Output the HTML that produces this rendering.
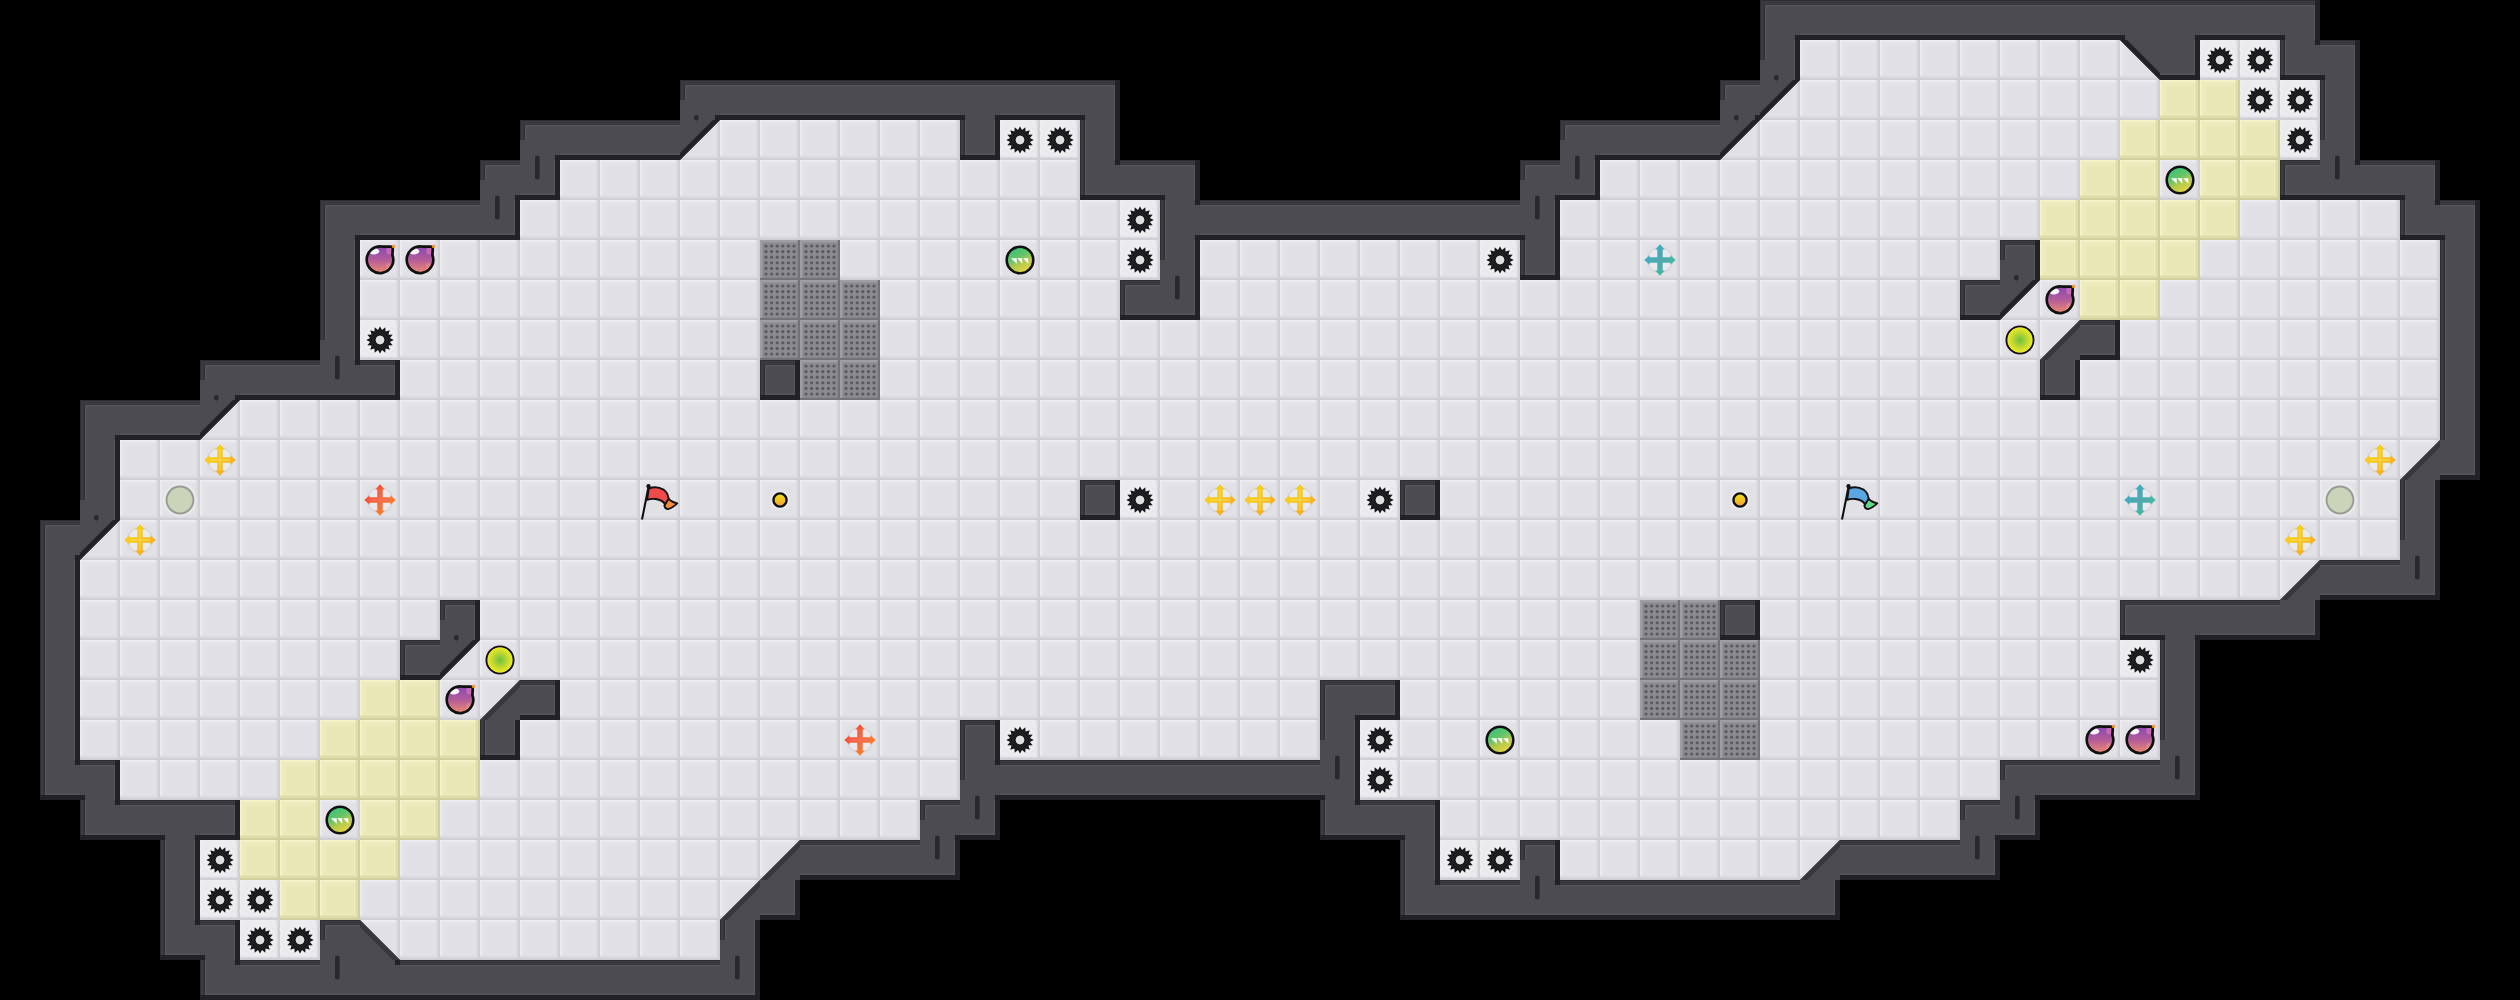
<!DOCTYPE html><html><head><meta charset="utf-8"><title>map</title>
<style>html,body{margin:0;padding:0;background:#000;width:2520px;height:1000px;overflow:hidden;font-family:"Liberation Sans",sans-serif}svg{display:block}</style>
</head><body>
<svg width="2520" height="1000" viewBox="0 0 2520 1000" shape-rendering="auto">
<defs>
<pattern id="fl" width="40" height="40" patternUnits="userSpaceOnUse"><rect width="40" height="40" fill="#e1e0e5"/><rect x="5.2" y="5.2" width="29.6" height="29.6" fill="none" stroke="#e4e3e8" stroke-width="2.4"/><rect x="0" y="0" width="40" height="3.6" fill="#e6e5ea"/><rect x="0" y="0" width="3.6" height="40" fill="#e6e5ea"/><rect x="0" y="0" width="40" height="1.5" fill="#ededf1"/><rect x="0" y="0" width="1.5" height="40" fill="#ededf1"/><rect x="0" y="35.6" width="40" height="2.6" fill="#dcdbe0"/><rect x="35.6" y="0" width="2.6" height="40" fill="#dcdbe0"/><rect x="0" y="38" width="40" height="2" fill="#d0cfd5"/><rect x="38" y="0" width="2" height="40" fill="#d0cfd5"/></pattern>
<pattern id="yl" width="40" height="40" patternUnits="userSpaceOnUse"><rect width="40" height="40" fill="#eae7b7"/><rect x="5.2" y="5.2" width="29.6" height="29.6" fill="none" stroke="#edeabc" stroke-width="2.4"/><rect x="0" y="0" width="40" height="3.6" fill="#efecc0"/><rect x="0" y="0" width="3.6" height="40" fill="#efecc0"/><rect x="0" y="0" width="40" height="1.5" fill="#f5f3cb"/><rect x="0" y="0" width="1.5" height="40" fill="#f5f3cb"/><rect x="0" y="35.6" width="40" height="2.6" fill="#e0ddab"/><rect x="35.6" y="0" width="2.6" height="40" fill="#e0ddab"/><rect x="0" y="38" width="40" height="2" fill="#d2cf9e"/><rect x="38" y="0" width="2" height="40" fill="#d2cf9e"/></pattern>
<pattern id="gt" width="40" height="40" patternUnits="userSpaceOnUse"><rect width="40" height="40" fill="#8b8a8f"/><rect x="0" y="0" width="40" height="2.4" fill="#9f9ea3"/><rect x="0" y="0" width="2.4" height="40" fill="#9f9ea3"/><rect x="0" y="37.8" width="40" height="2.2" fill="#737277"/><rect x="37.8" y="0" width="2.2" height="40" fill="#737277"/><g fill="#5a595e"><circle cx="6.0" cy="6.0" r="1.6"/><circle cx="6.0" cy="11.6" r="1.6"/><circle cx="6.0" cy="17.2" r="1.6"/><circle cx="6.0" cy="22.8" r="1.6"/><circle cx="6.0" cy="28.4" r="1.6"/><circle cx="6.0" cy="34.0" r="1.6"/><circle cx="11.6" cy="6.0" r="1.6"/><circle cx="11.6" cy="11.6" r="1.6"/><circle cx="11.6" cy="17.2" r="1.6"/><circle cx="11.6" cy="22.8" r="1.6"/><circle cx="11.6" cy="28.4" r="1.6"/><circle cx="11.6" cy="34.0" r="1.6"/><circle cx="17.2" cy="6.0" r="1.6"/><circle cx="17.2" cy="11.6" r="1.6"/><circle cx="17.2" cy="17.2" r="1.6"/><circle cx="17.2" cy="22.8" r="1.6"/><circle cx="17.2" cy="28.4" r="1.6"/><circle cx="17.2" cy="34.0" r="1.6"/><circle cx="22.8" cy="6.0" r="1.6"/><circle cx="22.8" cy="11.6" r="1.6"/><circle cx="22.8" cy="17.2" r="1.6"/><circle cx="22.8" cy="22.8" r="1.6"/><circle cx="22.8" cy="28.4" r="1.6"/><circle cx="22.8" cy="34.0" r="1.6"/><circle cx="28.4" cy="6.0" r="1.6"/><circle cx="28.4" cy="11.6" r="1.6"/><circle cx="28.4" cy="17.2" r="1.6"/><circle cx="28.4" cy="22.8" r="1.6"/><circle cx="28.4" cy="28.4" r="1.6"/><circle cx="28.4" cy="34.0" r="1.6"/><circle cx="34.0" cy="6.0" r="1.6"/><circle cx="34.0" cy="11.6" r="1.6"/><circle cx="34.0" cy="17.2" r="1.6"/><circle cx="34.0" cy="22.8" r="1.6"/><circle cx="34.0" cy="28.4" r="1.6"/><circle cx="34.0" cy="34.0" r="1.6"/></g></pattern>
<linearGradient id="gbomb" x1="0" y1="0" x2="0" y2="1"><stop offset="0.05" stop-color="#8e4ab2"/><stop offset="0.5" stop-color="#b25c9a"/><stop offset="1" stop-color="#ee8a72"/></linearGradient>
<linearGradient id="gpow" x1="0.25" y1="0" x2="0.75" y2="1"><stop offset="0" stop-color="#34c27a"/><stop offset="0.4" stop-color="#66c468"/><stop offset="0.62" stop-color="#b4c84c"/><stop offset="1" stop-color="#eed83e"/></linearGradient>
<radialGradient id="gneu" cx="0.5" cy="0.5" r="0.5"><stop offset="0" stop-color="#6cc040"/><stop offset="0.55" stop-color="#c0d830"/><stop offset="1" stop-color="#f4f020"/></radialGradient>
<linearGradient id="gbtn" x1="0" y1="0" x2="0" y2="1"><stop offset="0" stop-color="#f4e418"/><stop offset="1" stop-color="#f2a030"/></linearGradient>
<linearGradient id="gby" x1="0" y1="0" x2="1" y2="1"><stop offset="0" stop-color="#f6dc10"/><stop offset="0.5" stop-color="#f6c420"/><stop offset="1" stop-color="#f79820"/></linearGradient>
<linearGradient id="gbr" x1="0" y1="0" x2="1" y2="1"><stop offset="0" stop-color="#f33a3a"/><stop offset="0.5" stop-color="#f36a3c"/><stop offset="1" stop-color="#f7931e"/></linearGradient>
<linearGradient id="gbb" x1="0" y1="0" x2="1" y2="1"><stop offset="0" stop-color="#3aa6d4"/><stop offset="0.5" stop-color="#46b0b0"/><stop offset="1" stop-color="#48c090"/></linearGradient>
<radialGradient id="glow" cx="0.5" cy="0.5" r="0.5"><stop offset="0" stop-color="#ffffff" stop-opacity="0.55"/><stop offset="0.75" stop-color="#ffffff" stop-opacity="0.35"/><stop offset="1" stop-color="#ffffff" stop-opacity="0"/></radialGradient>
<g id="sp"><rect x="1.5" y="1.5" width="35.5" height="35.5" fill="#f4f4f7" opacity="0.45"/><circle cx="20" cy="20" r="17" fill="url(#glow)"/><path d="M20.00,6.20 L21.97,10.09 L25.28,7.25 L25.61,11.60 L29.76,10.24 L28.40,14.39 L32.75,14.72 L29.91,18.03 L33.80,20.00 L29.91,21.97 L32.75,25.28 L28.40,25.61 L29.76,29.76 L25.61,28.40 L25.28,32.75 L21.97,29.91 L20.00,33.80 L18.03,29.91 L14.72,32.75 L14.39,28.40 L10.24,29.76 L11.60,25.61 L7.25,25.28 L10.09,21.97 L6.20,20.00 L10.09,18.03 L7.25,14.72 L11.60,14.39 L10.24,10.24 L14.39,11.60 L14.72,7.25 L18.03,10.09 Z M24.2,20 A4.2,4.2 0 1,0 15.8,20 A4.2,4.2 0 1,0 24.2,20 Z" fill="#1a1a1c" fill-rule="evenodd"/><circle cx="20" cy="20" r="4.3" fill="#dfdfe3"/><circle cx="20" cy="20" r="7.2" fill="none" stroke="#2a2a2c" stroke-width="0.8"/></g>
<clipPath id="bclip"><path d="M22,6.65 L30.6,6.7 Q32.9,6.8 32.8,9 L32.4,15 A13.3,13.3 0 1,1 22,6.65 Z"/></clipPath>
<g id="bm"><circle cx="20" cy="20" r="16" fill="url(#glow)"/><path d="M22,6.65 L30.6,6.7 Q32.9,6.8 32.8,9 L32.4,15 A13.3,13.3 0 1,1 22,6.65 Z" fill="url(#gbomb)"/><g clip-path="url(#bclip)"><ellipse cx="13.8" cy="11.2" rx="5.4" ry="3.2" fill="#fff" opacity="0.95"/><ellipse cx="29.5" cy="11" rx="3.4" ry="3.6" fill="#e47cb8" opacity="0.6"/><ellipse cx="29" cy="26.5" rx="3" ry="3.5" fill="#f29a80" opacity="0.45"/></g><path d="M22,6.65 L30.6,6.7 Q32.9,6.8 32.8,9 L32.4,15 A13.3,13.3 0 1,1 22,6.65 Z" fill="none" stroke="#111" stroke-width="2.7" stroke-linejoin="round"/><circle cx="33.6" cy="6.4" r="1.7" fill="#f39020"/></g>
<g id="pw"><circle cx="20" cy="20" r="16" fill="url(#glow)"/><circle cx="20" cy="20" r="13.3" fill="url(#gpow)" stroke="#111" stroke-width="2.6"/><path d="M11,18.3 L16.7,18.3 L16.7,23.8 Z M17.3,18.3 L22.3,18.3 L22.3,23.8 Z M23.2,18.3 L28.3,18.3 L28.3,23.8 Z" fill="#fff"/></g>
<g id="nb"><circle cx="20" cy="20" r="16" fill="url(#glow)"/><circle cx="20" cy="20" r="13.6" fill="url(#gneu)" stroke="#140c24" stroke-width="1.9"/></g>
<g id="pt"><circle cx="20" cy="20" r="17" fill="#ececf2" opacity="0.6"/><circle cx="20" cy="20" r="13.4" fill="#c9d4b9" stroke="#9a9d92" stroke-width="2"/></g>
<g id="bt"><circle cx="20" cy="20" r="11" fill="url(#glow)"/><circle cx="20" cy="20" r="6.6" fill="url(#gbtn)" stroke="#111" stroke-width="2.4"/></g>
<g id="byl"><circle cx="20" cy="20" r="12.4" fill="#e9e9ee" stroke="#d3d3d9" stroke-width="1.4"/><path d="M17.3,9.6 L17.3,17.3 L9.6,17.3 L9.6,15.3 L4.3,20 L9.6,24.7 L9.6,22.7 L17.3,22.7 L17.3,30.4 L15.3,30.4 L20,35.7 L24.7,30.4 L22.7,30.4 L22.7,22.7 L30.4,22.7 L30.4,24.7 L35.7,20 L30.4,15.3 L30.4,17.3 L22.7,17.3 L22.7,9.6 L24.7,9.6 L20,4.3 L15.3,9.6 Z" fill="url(#gby)"/><path d="M20,9.5 L20,30.5 M9.5,20 L30.5,20" stroke="#f8e060" stroke-width="1.5" opacity="0.6"/></g>
<g id="brd"><circle cx="20" cy="20" r="12.4" fill="#e9e9ee" stroke="#d3d3d9" stroke-width="1.4"/><path d="M17.3,9.6 L17.3,17.3 L9.6,17.3 L9.6,15.3 L4.3,20 L9.6,24.7 L9.6,22.7 L17.3,22.7 L17.3,30.4 L15.3,30.4 L20,35.7 L24.7,30.4 L22.7,30.4 L22.7,22.7 L30.4,22.7 L30.4,24.7 L35.7,20 L30.4,15.3 L30.4,17.3 L22.7,17.3 L22.7,9.6 L24.7,9.6 L20,4.3 L15.3,9.6 Z" fill="url(#gbr)"/><path d="M20,9.5 L20,30.5 M9.5,20 L30.5,20" stroke="#f87070" stroke-width="1.5" opacity="0.6"/></g>
<g id="bbl"><circle cx="20" cy="20" r="12.4" fill="#e9e9ee" stroke="#d3d3d9" stroke-width="1.4"/><path d="M17.3,9.6 L17.3,17.3 L9.6,17.3 L9.6,15.3 L4.3,20 L9.6,24.7 L9.6,22.7 L17.3,22.7 L17.3,30.4 L15.3,30.4 L20,35.7 L24.7,30.4 L22.7,30.4 L22.7,22.7 L30.4,22.7 L30.4,24.7 L35.7,20 L30.4,15.3 L30.4,17.3 L22.7,17.3 L22.7,9.6 L24.7,9.6 L20,4.3 L15.3,9.6 Z" fill="url(#gbb)"/><path d="M20,9.5 L20,30.5 M9.5,20 L30.5,20" stroke="#6a98a8" stroke-width="1.5" opacity="0.6"/></g>
<g id="frd" stroke="#111" stroke-linejoin="round" stroke-linecap="round"><path d="M28.6,18.6 C30,20.5 32.5,22.2 37.3,23.4 C35,25.5 32,28 28.6,29 C26.5,29.3 24.8,28 24.3,25.5 L25,24.5 Z" fill="#f58a3a" stroke-width="1.8"/><path d="M8.8,8.6 C13,6.8 19,7 23.5,9.6 C26.5,11.5 28,15 28.6,18.6 L25,24.5 C23.5,21 20,19.6 15.5,19 C12,18.7 9.5,19 7.2,19.8 Z" fill="#ef4b4b" stroke-width="1.8"/><path d="M8.3,8 L2.2,38.6" stroke-width="2.1" fill="none"/><circle cx="8.5" cy="6.2" r="2.1" fill="#111" stroke="none"/></g>
<g id="fbl" stroke="#111" stroke-linejoin="round" stroke-linecap="round"><path d="M28.6,18.6 C30,20.5 32.5,22.2 37.3,23.4 C35,25.5 32,28 28.6,29 C26.5,29.3 24.8,28 24.3,25.5 L25,24.5 Z" fill="#5cd888" stroke-width="1.8"/><path d="M8.8,8.6 C13,6.8 19,7 23.5,9.6 C26.5,11.5 28,15 28.6,18.6 L25,24.5 C23.5,21 20,19.6 15.5,19 C12,18.7 9.5,19 7.2,19.8 Z" fill="#5aa6e0" stroke-width="1.8"/><path d="M8.3,8 L2.2,38.6" stroke-width="2.1" fill="none"/><circle cx="8.5" cy="6.2" r="2.1" fill="#111" stroke="none"/></g>
</defs>
<rect width="2520" height="1000" fill="#000"/>
<path d="M1800,40h40v40h-40zM1840,40h40v40h-40zM1880,40h40v40h-40zM1920,40h40v40h-40zM1960,40h40v40h-40zM2000,40h40v40h-40zM2040,40h40v40h-40zM2080,40h40v40h-40zM2200,40h40v40h-40zM2240,40h40v40h-40zM1800,80h40v40h-40zM1840,80h40v40h-40zM1880,80h40v40h-40zM1920,80h40v40h-40zM1960,80h40v40h-40zM2000,80h40v40h-40zM2040,80h40v40h-40zM2080,80h40v40h-40zM2120,80h40v40h-40zM2240,80h40v40h-40zM2280,80h40v40h-40zM720,120h40v40h-40zM760,120h40v40h-40zM800,120h40v40h-40zM840,120h40v40h-40zM880,120h40v40h-40zM920,120h40v40h-40zM1000,120h40v40h-40zM1040,120h40v40h-40zM1760,120h40v40h-40zM1800,120h40v40h-40zM1840,120h40v40h-40zM1880,120h40v40h-40zM1920,120h40v40h-40zM1960,120h40v40h-40zM2000,120h40v40h-40zM2040,120h40v40h-40zM2080,120h40v40h-40zM2280,120h40v40h-40zM560,160h40v40h-40zM600,160h40v40h-40zM640,160h40v40h-40zM680,160h40v40h-40zM720,160h40v40h-40zM760,160h40v40h-40zM800,160h40v40h-40zM840,160h40v40h-40zM880,160h40v40h-40zM920,160h40v40h-40zM960,160h40v40h-40zM1000,160h40v40h-40zM1040,160h40v40h-40zM1600,160h40v40h-40zM1640,160h40v40h-40zM1680,160h40v40h-40zM1720,160h40v40h-40zM1760,160h40v40h-40zM1800,160h40v40h-40zM1840,160h40v40h-40zM1880,160h40v40h-40zM1920,160h40v40h-40zM1960,160h40v40h-40zM2000,160h40v40h-40zM2040,160h40v40h-40zM2160,160h40v40h-40zM520,200h40v40h-40zM560,200h40v40h-40zM600,200h40v40h-40zM640,200h40v40h-40zM680,200h40v40h-40zM720,200h40v40h-40zM760,200h40v40h-40zM800,200h40v40h-40zM840,200h40v40h-40zM880,200h40v40h-40zM920,200h40v40h-40zM960,200h40v40h-40zM1000,200h40v40h-40zM1040,200h40v40h-40zM1080,200h40v40h-40zM1120,200h40v40h-40zM1560,200h40v40h-40zM1600,200h40v40h-40zM1640,200h40v40h-40zM1680,200h40v40h-40zM1720,200h40v40h-40zM1760,200h40v40h-40zM1800,200h40v40h-40zM1840,200h40v40h-40zM1880,200h40v40h-40zM1920,200h40v40h-40zM1960,200h40v40h-40zM2000,200h40v40h-40zM2240,200h40v40h-40zM2280,200h40v40h-40zM2320,200h40v40h-40zM2360,200h40v40h-40zM360,240h40v40h-40zM400,240h40v40h-40zM440,240h40v40h-40zM480,240h40v40h-40zM520,240h40v40h-40zM560,240h40v40h-40zM600,240h40v40h-40zM640,240h40v40h-40zM680,240h40v40h-40zM720,240h40v40h-40zM840,240h40v40h-40zM880,240h40v40h-40zM920,240h40v40h-40zM960,240h40v40h-40zM1000,240h40v40h-40zM1040,240h40v40h-40zM1080,240h40v40h-40zM1120,240h40v40h-40zM1200,240h40v40h-40zM1240,240h40v40h-40zM1280,240h40v40h-40zM1320,240h40v40h-40zM1360,240h40v40h-40zM1400,240h40v40h-40zM1440,240h40v40h-40zM1480,240h40v40h-40zM1560,240h40v40h-40zM1600,240h40v40h-40zM1640,240h40v40h-40zM1680,240h40v40h-40zM1720,240h40v40h-40zM1760,240h40v40h-40zM1800,240h40v40h-40zM1840,240h40v40h-40zM1880,240h40v40h-40zM1920,240h40v40h-40zM1960,240h40v40h-40zM2200,240h40v40h-40zM2240,240h40v40h-40zM2280,240h40v40h-40zM2320,240h40v40h-40zM2360,240h40v40h-40zM2400,240h40v40h-40zM360,280h40v40h-40zM400,280h40v40h-40zM440,280h40v40h-40zM480,280h40v40h-40zM520,280h40v40h-40zM560,280h40v40h-40zM600,280h40v40h-40zM640,280h40v40h-40zM680,280h40v40h-40zM720,280h40v40h-40zM880,280h40v40h-40zM920,280h40v40h-40zM960,280h40v40h-40zM1000,280h40v40h-40zM1040,280h40v40h-40zM1080,280h40v40h-40zM1200,280h40v40h-40zM1240,280h40v40h-40zM1280,280h40v40h-40zM1320,280h40v40h-40zM1360,280h40v40h-40zM1400,280h40v40h-40zM1440,280h40v40h-40zM1480,280h40v40h-40zM1520,280h40v40h-40zM1560,280h40v40h-40zM1600,280h40v40h-40zM1640,280h40v40h-40zM1680,280h40v40h-40zM1720,280h40v40h-40zM1760,280h40v40h-40zM1800,280h40v40h-40zM1840,280h40v40h-40zM1880,280h40v40h-40zM1920,280h40v40h-40zM2040,280h40v40h-40zM2160,280h40v40h-40zM2200,280h40v40h-40zM2240,280h40v40h-40zM2280,280h40v40h-40zM2320,280h40v40h-40zM2360,280h40v40h-40zM2400,280h40v40h-40zM360,320h40v40h-40zM400,320h40v40h-40zM440,320h40v40h-40zM480,320h40v40h-40zM520,320h40v40h-40zM560,320h40v40h-40zM600,320h40v40h-40zM640,320h40v40h-40zM680,320h40v40h-40zM720,320h40v40h-40zM880,320h40v40h-40zM920,320h40v40h-40zM960,320h40v40h-40zM1000,320h40v40h-40zM1040,320h40v40h-40zM1080,320h40v40h-40zM1120,320h40v40h-40zM1160,320h40v40h-40zM1200,320h40v40h-40zM1240,320h40v40h-40zM1280,320h40v40h-40zM1320,320h40v40h-40zM1360,320h40v40h-40zM1400,320h40v40h-40zM1440,320h40v40h-40zM1480,320h40v40h-40zM1520,320h40v40h-40zM1560,320h40v40h-40zM1600,320h40v40h-40zM1640,320h40v40h-40zM1680,320h40v40h-40zM1720,320h40v40h-40zM1760,320h40v40h-40zM1800,320h40v40h-40zM1840,320h40v40h-40zM1880,320h40v40h-40zM1920,320h40v40h-40zM1960,320h40v40h-40zM2000,320h40v40h-40zM2120,320h40v40h-40zM2160,320h40v40h-40zM2200,320h40v40h-40zM2240,320h40v40h-40zM2280,320h40v40h-40zM2320,320h40v40h-40zM2360,320h40v40h-40zM2400,320h40v40h-40zM400,360h40v40h-40zM440,360h40v40h-40zM480,360h40v40h-40zM520,360h40v40h-40zM560,360h40v40h-40zM600,360h40v40h-40zM640,360h40v40h-40zM680,360h40v40h-40zM720,360h40v40h-40zM880,360h40v40h-40zM920,360h40v40h-40zM960,360h40v40h-40zM1000,360h40v40h-40zM1040,360h40v40h-40zM1080,360h40v40h-40zM1120,360h40v40h-40zM1160,360h40v40h-40zM1200,360h40v40h-40zM1240,360h40v40h-40zM1280,360h40v40h-40zM1320,360h40v40h-40zM1360,360h40v40h-40zM1400,360h40v40h-40zM1440,360h40v40h-40zM1480,360h40v40h-40zM1520,360h40v40h-40zM1560,360h40v40h-40zM1600,360h40v40h-40zM1640,360h40v40h-40zM1680,360h40v40h-40zM1720,360h40v40h-40zM1760,360h40v40h-40zM1800,360h40v40h-40zM1840,360h40v40h-40zM1880,360h40v40h-40zM1920,360h40v40h-40zM1960,360h40v40h-40zM2000,360h40v40h-40zM2080,360h40v40h-40zM2120,360h40v40h-40zM2160,360h40v40h-40zM2200,360h40v40h-40zM2240,360h40v40h-40zM2280,360h40v40h-40zM2320,360h40v40h-40zM2360,360h40v40h-40zM2400,360h40v40h-40zM240,400h40v40h-40zM280,400h40v40h-40zM320,400h40v40h-40zM360,400h40v40h-40zM400,400h40v40h-40zM440,400h40v40h-40zM480,400h40v40h-40zM520,400h40v40h-40zM560,400h40v40h-40zM600,400h40v40h-40zM640,400h40v40h-40zM680,400h40v40h-40zM720,400h40v40h-40zM760,400h40v40h-40zM800,400h40v40h-40zM840,400h40v40h-40zM880,400h40v40h-40zM920,400h40v40h-40zM960,400h40v40h-40zM1000,400h40v40h-40zM1040,400h40v40h-40zM1080,400h40v40h-40zM1120,400h40v40h-40zM1160,400h40v40h-40zM1200,400h40v40h-40zM1240,400h40v40h-40zM1280,400h40v40h-40zM1320,400h40v40h-40zM1360,400h40v40h-40zM1400,400h40v40h-40zM1440,400h40v40h-40zM1480,400h40v40h-40zM1520,400h40v40h-40zM1560,400h40v40h-40zM1600,400h40v40h-40zM1640,400h40v40h-40zM1680,400h40v40h-40zM1720,400h40v40h-40zM1760,400h40v40h-40zM1800,400h40v40h-40zM1840,400h40v40h-40zM1880,400h40v40h-40zM1920,400h40v40h-40zM1960,400h40v40h-40zM2000,400h40v40h-40zM2040,400h40v40h-40zM2080,400h40v40h-40zM2120,400h40v40h-40zM2160,400h40v40h-40zM2200,400h40v40h-40zM2240,400h40v40h-40zM2280,400h40v40h-40zM2320,400h40v40h-40zM2360,400h40v40h-40zM2400,400h40v40h-40zM120,440h40v40h-40zM160,440h40v40h-40zM200,440h40v40h-40zM240,440h40v40h-40zM280,440h40v40h-40zM320,440h40v40h-40zM360,440h40v40h-40zM400,440h40v40h-40zM440,440h40v40h-40zM480,440h40v40h-40zM520,440h40v40h-40zM560,440h40v40h-40zM600,440h40v40h-40zM640,440h40v40h-40zM680,440h40v40h-40zM720,440h40v40h-40zM760,440h40v40h-40zM800,440h40v40h-40zM840,440h40v40h-40zM880,440h40v40h-40zM920,440h40v40h-40zM960,440h40v40h-40zM1000,440h40v40h-40zM1040,440h40v40h-40zM1080,440h40v40h-40zM1120,440h40v40h-40zM1160,440h40v40h-40zM1200,440h40v40h-40zM1240,440h40v40h-40zM1280,440h40v40h-40zM1320,440h40v40h-40zM1360,440h40v40h-40zM1400,440h40v40h-40zM1440,440h40v40h-40zM1480,440h40v40h-40zM1520,440h40v40h-40zM1560,440h40v40h-40zM1600,440h40v40h-40zM1640,440h40v40h-40zM1680,440h40v40h-40zM1720,440h40v40h-40zM1760,440h40v40h-40zM1800,440h40v40h-40zM1840,440h40v40h-40zM1880,440h40v40h-40zM1920,440h40v40h-40zM1960,440h40v40h-40zM2000,440h40v40h-40zM2040,440h40v40h-40zM2080,440h40v40h-40zM2120,440h40v40h-40zM2160,440h40v40h-40zM2200,440h40v40h-40zM2240,440h40v40h-40zM2280,440h40v40h-40zM2320,440h40v40h-40zM2360,440h40v40h-40zM120,480h40v40h-40zM160,480h40v40h-40zM200,480h40v40h-40zM240,480h40v40h-40zM280,480h40v40h-40zM320,480h40v40h-40zM360,480h40v40h-40zM400,480h40v40h-40zM440,480h40v40h-40zM480,480h40v40h-40zM520,480h40v40h-40zM560,480h40v40h-40zM600,480h40v40h-40zM640,480h40v40h-40zM680,480h40v40h-40zM720,480h40v40h-40zM760,480h40v40h-40zM800,480h40v40h-40zM840,480h40v40h-40zM880,480h40v40h-40zM920,480h40v40h-40zM960,480h40v40h-40zM1000,480h40v40h-40zM1040,480h40v40h-40zM1120,480h40v40h-40zM1160,480h40v40h-40zM1200,480h40v40h-40zM1240,480h40v40h-40zM1280,480h40v40h-40zM1320,480h40v40h-40zM1360,480h40v40h-40zM1440,480h40v40h-40zM1480,480h40v40h-40zM1520,480h40v40h-40zM1560,480h40v40h-40zM1600,480h40v40h-40zM1640,480h40v40h-40zM1680,480h40v40h-40zM1720,480h40v40h-40zM1760,480h40v40h-40zM1800,480h40v40h-40zM1840,480h40v40h-40zM1880,480h40v40h-40zM1920,480h40v40h-40zM1960,480h40v40h-40zM2000,480h40v40h-40zM2040,480h40v40h-40zM2080,480h40v40h-40zM2120,480h40v40h-40zM2160,480h40v40h-40zM2200,480h40v40h-40zM2240,480h40v40h-40zM2280,480h40v40h-40zM2320,480h40v40h-40zM2360,480h40v40h-40zM120,520h40v40h-40zM160,520h40v40h-40zM200,520h40v40h-40zM240,520h40v40h-40zM280,520h40v40h-40zM320,520h40v40h-40zM360,520h40v40h-40zM400,520h40v40h-40zM440,520h40v40h-40zM480,520h40v40h-40zM520,520h40v40h-40zM560,520h40v40h-40zM600,520h40v40h-40zM640,520h40v40h-40zM680,520h40v40h-40zM720,520h40v40h-40zM760,520h40v40h-40zM800,520h40v40h-40zM840,520h40v40h-40zM880,520h40v40h-40zM920,520h40v40h-40zM960,520h40v40h-40zM1000,520h40v40h-40zM1040,520h40v40h-40zM1080,520h40v40h-40zM1120,520h40v40h-40zM1160,520h40v40h-40zM1200,520h40v40h-40zM1240,520h40v40h-40zM1280,520h40v40h-40zM1320,520h40v40h-40zM1360,520h40v40h-40zM1400,520h40v40h-40zM1440,520h40v40h-40zM1480,520h40v40h-40zM1520,520h40v40h-40zM1560,520h40v40h-40zM1600,520h40v40h-40zM1640,520h40v40h-40zM1680,520h40v40h-40zM1720,520h40v40h-40zM1760,520h40v40h-40zM1800,520h40v40h-40zM1840,520h40v40h-40zM1880,520h40v40h-40zM1920,520h40v40h-40zM1960,520h40v40h-40zM2000,520h40v40h-40zM2040,520h40v40h-40zM2080,520h40v40h-40zM2120,520h40v40h-40zM2160,520h40v40h-40zM2200,520h40v40h-40zM2240,520h40v40h-40zM2280,520h40v40h-40zM2320,520h40v40h-40zM2360,520h40v40h-40zM80,560h40v40h-40zM120,560h40v40h-40zM160,560h40v40h-40zM200,560h40v40h-40zM240,560h40v40h-40zM280,560h40v40h-40zM320,560h40v40h-40zM360,560h40v40h-40zM400,560h40v40h-40zM440,560h40v40h-40zM480,560h40v40h-40zM520,560h40v40h-40zM560,560h40v40h-40zM600,560h40v40h-40zM640,560h40v40h-40zM680,560h40v40h-40zM720,560h40v40h-40zM760,560h40v40h-40zM800,560h40v40h-40zM840,560h40v40h-40zM880,560h40v40h-40zM920,560h40v40h-40zM960,560h40v40h-40zM1000,560h40v40h-40zM1040,560h40v40h-40zM1080,560h40v40h-40zM1120,560h40v40h-40zM1160,560h40v40h-40zM1200,560h40v40h-40zM1240,560h40v40h-40zM1280,560h40v40h-40zM1320,560h40v40h-40zM1360,560h40v40h-40zM1400,560h40v40h-40zM1440,560h40v40h-40zM1480,560h40v40h-40zM1520,560h40v40h-40zM1560,560h40v40h-40zM1600,560h40v40h-40zM1640,560h40v40h-40zM1680,560h40v40h-40zM1720,560h40v40h-40zM1760,560h40v40h-40zM1800,560h40v40h-40zM1840,560h40v40h-40zM1880,560h40v40h-40zM1920,560h40v40h-40zM1960,560h40v40h-40zM2000,560h40v40h-40zM2040,560h40v40h-40zM2080,560h40v40h-40zM2120,560h40v40h-40zM2160,560h40v40h-40zM2200,560h40v40h-40zM2240,560h40v40h-40zM80,600h40v40h-40zM120,600h40v40h-40zM160,600h40v40h-40zM200,600h40v40h-40zM240,600h40v40h-40zM280,600h40v40h-40zM320,600h40v40h-40zM360,600h40v40h-40zM400,600h40v40h-40zM480,600h40v40h-40zM520,600h40v40h-40zM560,600h40v40h-40zM600,600h40v40h-40zM640,600h40v40h-40zM680,600h40v40h-40zM720,600h40v40h-40zM760,600h40v40h-40zM800,600h40v40h-40zM840,600h40v40h-40zM880,600h40v40h-40zM920,600h40v40h-40zM960,600h40v40h-40zM1000,600h40v40h-40zM1040,600h40v40h-40zM1080,600h40v40h-40zM1120,600h40v40h-40zM1160,600h40v40h-40zM1200,600h40v40h-40zM1240,600h40v40h-40zM1280,600h40v40h-40zM1320,600h40v40h-40zM1360,600h40v40h-40zM1400,600h40v40h-40zM1440,600h40v40h-40zM1480,600h40v40h-40zM1520,600h40v40h-40zM1560,600h40v40h-40zM1600,600h40v40h-40zM1760,600h40v40h-40zM1800,600h40v40h-40zM1840,600h40v40h-40zM1880,600h40v40h-40zM1920,600h40v40h-40zM1960,600h40v40h-40zM2000,600h40v40h-40zM2040,600h40v40h-40zM2080,600h40v40h-40zM80,640h40v40h-40zM120,640h40v40h-40zM160,640h40v40h-40zM200,640h40v40h-40zM240,640h40v40h-40zM280,640h40v40h-40zM320,640h40v40h-40zM360,640h40v40h-40zM480,640h40v40h-40zM520,640h40v40h-40zM560,640h40v40h-40zM600,640h40v40h-40zM640,640h40v40h-40zM680,640h40v40h-40zM720,640h40v40h-40zM760,640h40v40h-40zM800,640h40v40h-40zM840,640h40v40h-40zM880,640h40v40h-40zM920,640h40v40h-40zM960,640h40v40h-40zM1000,640h40v40h-40zM1040,640h40v40h-40zM1080,640h40v40h-40zM1120,640h40v40h-40zM1160,640h40v40h-40zM1200,640h40v40h-40zM1240,640h40v40h-40zM1280,640h40v40h-40zM1320,640h40v40h-40zM1360,640h40v40h-40zM1400,640h40v40h-40zM1440,640h40v40h-40zM1480,640h40v40h-40zM1520,640h40v40h-40zM1560,640h40v40h-40zM1600,640h40v40h-40zM1760,640h40v40h-40zM1800,640h40v40h-40zM1840,640h40v40h-40zM1880,640h40v40h-40zM1920,640h40v40h-40zM1960,640h40v40h-40zM2000,640h40v40h-40zM2040,640h40v40h-40zM2080,640h40v40h-40zM2120,640h40v40h-40zM80,680h40v40h-40zM120,680h40v40h-40zM160,680h40v40h-40zM200,680h40v40h-40zM240,680h40v40h-40zM280,680h40v40h-40zM320,680h40v40h-40zM440,680h40v40h-40zM560,680h40v40h-40zM600,680h40v40h-40zM640,680h40v40h-40zM680,680h40v40h-40zM720,680h40v40h-40zM760,680h40v40h-40zM800,680h40v40h-40zM840,680h40v40h-40zM880,680h40v40h-40zM920,680h40v40h-40zM960,680h40v40h-40zM1000,680h40v40h-40zM1040,680h40v40h-40zM1080,680h40v40h-40zM1120,680h40v40h-40zM1160,680h40v40h-40zM1200,680h40v40h-40zM1240,680h40v40h-40zM1280,680h40v40h-40zM1400,680h40v40h-40zM1440,680h40v40h-40zM1480,680h40v40h-40zM1520,680h40v40h-40zM1560,680h40v40h-40zM1600,680h40v40h-40zM1760,680h40v40h-40zM1800,680h40v40h-40zM1840,680h40v40h-40zM1880,680h40v40h-40zM1920,680h40v40h-40zM1960,680h40v40h-40zM2000,680h40v40h-40zM2040,680h40v40h-40zM2080,680h40v40h-40zM2120,680h40v40h-40zM80,720h40v40h-40zM120,720h40v40h-40zM160,720h40v40h-40zM200,720h40v40h-40zM240,720h40v40h-40zM280,720h40v40h-40zM520,720h40v40h-40zM560,720h40v40h-40zM600,720h40v40h-40zM640,720h40v40h-40zM680,720h40v40h-40zM720,720h40v40h-40zM760,720h40v40h-40zM800,720h40v40h-40zM840,720h40v40h-40zM880,720h40v40h-40zM920,720h40v40h-40zM1000,720h40v40h-40zM1040,720h40v40h-40zM1080,720h40v40h-40zM1120,720h40v40h-40zM1160,720h40v40h-40zM1200,720h40v40h-40zM1240,720h40v40h-40zM1280,720h40v40h-40zM1360,720h40v40h-40zM1400,720h40v40h-40zM1440,720h40v40h-40zM1480,720h40v40h-40zM1520,720h40v40h-40zM1560,720h40v40h-40zM1600,720h40v40h-40zM1640,720h40v40h-40zM1760,720h40v40h-40zM1800,720h40v40h-40zM1840,720h40v40h-40zM1880,720h40v40h-40zM1920,720h40v40h-40zM1960,720h40v40h-40zM2000,720h40v40h-40zM2040,720h40v40h-40zM2080,720h40v40h-40zM2120,720h40v40h-40zM120,760h40v40h-40zM160,760h40v40h-40zM200,760h40v40h-40zM240,760h40v40h-40zM480,760h40v40h-40zM520,760h40v40h-40zM560,760h40v40h-40zM600,760h40v40h-40zM640,760h40v40h-40zM680,760h40v40h-40zM720,760h40v40h-40zM760,760h40v40h-40zM800,760h40v40h-40zM840,760h40v40h-40zM880,760h40v40h-40zM920,760h40v40h-40zM1360,760h40v40h-40zM1400,760h40v40h-40zM1440,760h40v40h-40zM1480,760h40v40h-40zM1520,760h40v40h-40zM1560,760h40v40h-40zM1600,760h40v40h-40zM1640,760h40v40h-40zM1680,760h40v40h-40zM1720,760h40v40h-40zM1760,760h40v40h-40zM1800,760h40v40h-40zM1840,760h40v40h-40zM1880,760h40v40h-40zM1920,760h40v40h-40zM1960,760h40v40h-40zM320,800h40v40h-40zM440,800h40v40h-40zM480,800h40v40h-40zM520,800h40v40h-40zM560,800h40v40h-40zM600,800h40v40h-40zM640,800h40v40h-40zM680,800h40v40h-40zM720,800h40v40h-40zM760,800h40v40h-40zM800,800h40v40h-40zM840,800h40v40h-40zM880,800h40v40h-40zM1440,800h40v40h-40zM1480,800h40v40h-40zM1520,800h40v40h-40zM1560,800h40v40h-40zM1600,800h40v40h-40zM1640,800h40v40h-40zM1680,800h40v40h-40zM1720,800h40v40h-40zM1760,800h40v40h-40zM1800,800h40v40h-40zM1840,800h40v40h-40zM1880,800h40v40h-40zM1920,800h40v40h-40zM200,840h40v40h-40zM400,840h40v40h-40zM440,840h40v40h-40zM480,840h40v40h-40zM520,840h40v40h-40zM560,840h40v40h-40zM600,840h40v40h-40zM640,840h40v40h-40zM680,840h40v40h-40zM720,840h40v40h-40zM1440,840h40v40h-40zM1480,840h40v40h-40zM1560,840h40v40h-40zM1600,840h40v40h-40zM1640,840h40v40h-40zM1680,840h40v40h-40zM1720,840h40v40h-40zM1760,840h40v40h-40zM200,880h40v40h-40zM240,880h40v40h-40zM360,880h40v40h-40zM400,880h40v40h-40zM440,880h40v40h-40zM480,880h40v40h-40zM520,880h40v40h-40zM560,880h40v40h-40zM600,880h40v40h-40zM640,880h40v40h-40zM680,880h40v40h-40zM240,920h40v40h-40zM280,920h40v40h-40zM400,920h40v40h-40zM440,920h40v40h-40zM480,920h40v40h-40zM520,920h40v40h-40zM560,920h40v40h-40zM600,920h40v40h-40zM640,920h40v40h-40zM680,920h40v40h-40zM2120,40h40v40h-40zM1760,80h40v40h-40zM680,120h40v40h-40zM1720,120h40v40h-40zM2000,280h40v40h-40zM2040,320h40v40h-40zM200,400h40v40h-40zM2400,440h40v40h-40zM80,520h40v40h-40zM2280,560h40v40h-40zM440,640h40v40h-40zM480,680h40v40h-40zM760,840h40v40h-40zM1800,840h40v40h-40zM720,880h40v40h-40zM360,920h40v40h-40z" fill="url(#fl)"/>
<path d="M2160,80h40v40h-40zM2200,80h40v40h-40zM2120,120h40v40h-40zM2160,120h40v40h-40zM2200,120h40v40h-40zM2240,120h40v40h-40zM2080,160h40v40h-40zM2120,160h40v40h-40zM2200,160h40v40h-40zM2240,160h40v40h-40zM2040,200h40v40h-40zM2080,200h40v40h-40zM2120,200h40v40h-40zM2160,200h40v40h-40zM2200,200h40v40h-40zM2040,240h40v40h-40zM2080,240h40v40h-40zM2120,240h40v40h-40zM2160,240h40v40h-40zM2080,280h40v40h-40zM2120,280h40v40h-40zM360,680h40v40h-40zM400,680h40v40h-40zM320,720h40v40h-40zM360,720h40v40h-40zM400,720h40v40h-40zM440,720h40v40h-40zM280,760h40v40h-40zM320,760h40v40h-40zM360,760h40v40h-40zM400,760h40v40h-40zM440,760h40v40h-40zM240,800h40v40h-40zM280,800h40v40h-40zM360,800h40v40h-40zM400,800h40v40h-40zM240,840h40v40h-40zM280,840h40v40h-40zM320,840h40v40h-40zM360,840h40v40h-40zM280,880h40v40h-40zM320,880h40v40h-40z" fill="url(#yl)"/>
<path d="M760,240h40v40h-40zM800,240h40v40h-40zM760,280h40v40h-40zM800,280h40v40h-40zM840,280h40v40h-40zM760,320h40v40h-40zM800,320h40v40h-40zM840,320h40v40h-40zM800,360h40v40h-40zM840,360h40v40h-40zM1640,600h40v40h-40zM1680,600h40v40h-40zM1640,640h40v40h-40zM1680,640h40v40h-40zM1720,640h40v40h-40zM1640,680h40v40h-40zM1680,680h40v40h-40zM1720,680h40v40h-40zM1680,720h40v40h-40zM1720,720h40v40h-40z" fill="url(#gt)"/>
<path d="M1760,0h40v40h-40zM1800,0h40v40h-40zM1840,0h40v40h-40zM1880,0h40v40h-40zM1920,0h40v40h-40zM1960,0h40v40h-40zM2000,0h40v40h-40zM2040,0h40v40h-40zM2080,0h40v40h-40zM2120,0h40v40h-40zM2160,0h40v40h-40zM2200,0h40v40h-40zM2240,0h40v40h-40zM2280,0h40v40h-40zM1760,40h40v40h-40zM2160,40h40v40h-40zM2280,40h40v40h-40zM2320,40h40v40h-40zM680,80h40v40h-40zM720,80h40v40h-40zM760,80h40v40h-40zM800,80h40v40h-40zM840,80h40v40h-40zM880,80h40v40h-40zM920,80h40v40h-40zM960,80h40v40h-40zM1000,80h40v40h-40zM1040,80h40v40h-40zM1080,80h40v40h-40zM1720,80h40v40h-40zM2320,80h40v40h-40zM520,120h40v40h-40zM560,120h40v40h-40zM600,120h40v40h-40zM640,120h40v40h-40zM960,120h40v40h-40zM1080,120h40v40h-40zM1560,120h40v40h-40zM1600,120h40v40h-40zM1640,120h40v40h-40zM1680,120h40v40h-40zM2320,120h40v40h-40zM480,160h40v40h-40zM520,160h40v40h-40zM1080,160h40v40h-40zM1120,160h40v40h-40zM1160,160h40v40h-40zM1520,160h40v40h-40zM1560,160h40v40h-40zM2280,160h40v40h-40zM2320,160h40v40h-40zM2360,160h40v40h-40zM2400,160h40v40h-40zM320,200h40v40h-40zM360,200h40v40h-40zM400,200h40v40h-40zM440,200h40v40h-40zM480,200h40v40h-40zM1160,200h40v40h-40zM1200,200h40v40h-40zM1240,200h40v40h-40zM1280,200h40v40h-40zM1320,200h40v40h-40zM1360,200h40v40h-40zM1400,200h40v40h-40zM1440,200h40v40h-40zM1480,200h40v40h-40zM1520,200h40v40h-40zM2400,200h40v40h-40zM2440,200h40v40h-40zM320,240h40v40h-40zM1160,240h40v40h-40zM1520,240h40v40h-40zM2000,240h40v40h-40zM2440,240h40v40h-40zM320,280h40v40h-40zM1120,280h40v40h-40zM1160,280h40v40h-40zM1960,280h40v40h-40zM2440,280h40v40h-40zM320,320h40v40h-40zM2080,320h40v40h-40zM2440,320h40v40h-40zM200,360h40v40h-40zM240,360h40v40h-40zM280,360h40v40h-40zM320,360h40v40h-40zM360,360h40v40h-40zM760,360h40v40h-40zM2040,360h40v40h-40zM2440,360h40v40h-40zM80,400h40v40h-40zM120,400h40v40h-40zM160,400h40v40h-40zM2440,400h40v40h-40zM80,440h40v40h-40zM2440,440h40v40h-40zM80,480h40v40h-40zM1080,480h40v40h-40zM1400,480h40v40h-40zM2400,480h40v40h-40zM40,520h40v40h-40zM2400,520h40v40h-40zM40,560h40v40h-40zM2320,560h40v40h-40zM2360,560h40v40h-40zM2400,560h40v40h-40zM40,600h40v40h-40zM440,600h40v40h-40zM1720,600h40v40h-40zM2120,600h40v40h-40zM2160,600h40v40h-40zM2200,600h40v40h-40zM2240,600h40v40h-40zM2280,600h40v40h-40zM40,640h40v40h-40zM400,640h40v40h-40zM2160,640h40v40h-40zM40,680h40v40h-40zM520,680h40v40h-40zM1320,680h40v40h-40zM1360,680h40v40h-40zM2160,680h40v40h-40zM40,720h40v40h-40zM480,720h40v40h-40zM960,720h40v40h-40zM1320,720h40v40h-40zM2160,720h40v40h-40zM40,760h40v40h-40zM80,760h40v40h-40zM960,760h40v40h-40zM1000,760h40v40h-40zM1040,760h40v40h-40zM1080,760h40v40h-40zM1120,760h40v40h-40zM1160,760h40v40h-40zM1200,760h40v40h-40zM1240,760h40v40h-40zM1280,760h40v40h-40zM1320,760h40v40h-40zM2000,760h40v40h-40zM2040,760h40v40h-40zM2080,760h40v40h-40zM2120,760h40v40h-40zM2160,760h40v40h-40zM80,800h40v40h-40zM120,800h40v40h-40zM160,800h40v40h-40zM200,800h40v40h-40zM920,800h40v40h-40zM960,800h40v40h-40zM1320,800h40v40h-40zM1360,800h40v40h-40zM1400,800h40v40h-40zM1960,800h40v40h-40zM2000,800h40v40h-40zM160,840h40v40h-40zM800,840h40v40h-40zM840,840h40v40h-40zM880,840h40v40h-40zM920,840h40v40h-40zM1400,840h40v40h-40zM1520,840h40v40h-40zM1840,840h40v40h-40zM1880,840h40v40h-40zM1920,840h40v40h-40zM1960,840h40v40h-40zM160,880h40v40h-40zM760,880h40v40h-40zM1400,880h40v40h-40zM1440,880h40v40h-40zM1480,880h40v40h-40zM1520,880h40v40h-40zM1560,880h40v40h-40zM1600,880h40v40h-40zM1640,880h40v40h-40zM1680,880h40v40h-40zM1720,880h40v40h-40zM1760,880h40v40h-40zM1800,880h40v40h-40zM160,920h40v40h-40zM200,920h40v40h-40zM320,920h40v40h-40zM720,920h40v40h-40zM200,960h40v40h-40zM240,960h40v40h-40zM280,960h40v40h-40zM320,960h40v40h-40zM360,960h40v40h-40zM400,960h40v40h-40zM440,960h40v40h-40zM480,960h40v40h-40zM520,960h40v40h-40zM560,960h40v40h-40zM600,960h40v40h-40zM640,960h40v40h-40zM680,960h40v40h-40zM720,960h40v40h-40z" fill="#4c4b50"/>
<path d="M2120,40L2160,40L2160,80ZM1760,80L1800,80L1760,120ZM680,120L720,120L680,160ZM1720,120L1760,120L1720,160ZM2000,280L2040,280L2000,320ZM2080,320L2080,360L2040,360ZM200,400L240,400L200,440ZM2440,440L2440,480L2400,480ZM80,520L120,520L80,560ZM2320,560L2320,600L2280,600ZM440,640L480,640L440,680ZM520,680L520,720L480,720ZM800,840L800,880L760,880ZM1840,840L1840,880L1800,880ZM760,880L760,920L720,920ZM360,920L360,960L400,960Z" fill="#4c4b50"/>
<path d="M1765.0,0.0h1.6v40.0h-1.6zM2285.0,40.0h1.6v40.0h-1.6zM2325.0,80.0h1.6v40.0h-1.6zM965.0,120.0h1.6v40.0h-1.6zM1085.0,120.0h1.6v40.0h-1.6zM1085.0,160.0h1.6v40.0h-1.6zM2285.0,160.0h1.6v40.0h-1.6zM325.0,200.0h1.6v40.0h-1.6zM1165.0,200.0h1.6v40.0h-1.6zM2405.0,200.0h1.6v40.0h-1.6zM325.0,240.0h1.6v40.0h-1.6zM1525.0,240.0h1.6v40.0h-1.6zM2445.0,240.0h1.6v40.0h-1.6zM325.0,280.0h1.6v40.0h-1.6zM1125.0,280.0h1.6v40.0h-1.6zM1965.0,280.0h1.6v40.0h-1.6zM2445.0,280.0h1.6v40.0h-1.6zM2445.0,320.0h1.6v40.0h-1.6zM765.0,360.0h1.6v40.0h-1.6zM2045.0,360.0h1.6v40.0h-1.6zM2445.0,360.0h1.6v40.0h-1.6zM85.0,400.0h1.6v40.0h-1.6zM2445.0,400.0h1.6v40.0h-1.6zM85.0,440.0h1.6v40.0h-1.6zM1085.0,480.0h1.6v40.0h-1.6zM1405.0,480.0h1.6v40.0h-1.6zM2405.0,480.0h1.6v40.0h-1.6zM45.0,520.0h1.6v40.0h-1.6zM45.0,560.0h1.6v40.0h-1.6zM45.0,600.0h1.6v40.0h-1.6zM1725.0,600.0h1.6v40.0h-1.6zM2125.0,600.0h1.6v40.0h-1.6zM45.0,640.0h1.6v40.0h-1.6zM405.0,640.0h1.6v40.0h-1.6zM2165.0,640.0h1.6v40.0h-1.6zM45.0,680.0h1.6v40.0h-1.6zM1325.0,680.0h1.6v40.0h-1.6zM2165.0,680.0h1.6v40.0h-1.6zM45.0,720.0h1.6v40.0h-1.6zM485.0,720.0h1.6v40.0h-1.6zM965.0,720.0h1.6v40.0h-1.6zM45.0,760.0h1.6v40.0h-1.6zM85.0,800.0h1.6v40.0h-1.6zM1325.0,800.0h1.6v40.0h-1.6zM165.0,840.0h1.6v40.0h-1.6zM1405.0,840.0h1.6v40.0h-1.6zM165.0,880.0h1.6v40.0h-1.6zM1405.0,880.0h1.6v40.0h-1.6zM165.0,920.0h1.6v40.0h-1.6zM205.0,960.0h1.6v40.0h-1.6zM1765.0,40.0h1.6v20.0h-1.6zM685.0,80.0h1.6v20.0h-1.6zM1725.0,80.0h1.6v20.0h-1.6zM525.0,120.0h1.6v20.0h-1.6zM1565.0,120.0h1.6v20.0h-1.6zM2325.0,120.0h1.6v20.0h-1.6zM485.0,160.0h1.6v20.0h-1.6zM1525.0,160.0h1.6v20.0h-1.6zM1165.0,240.0h1.6v20.0h-1.6zM2005.0,240.0h1.6v20.0h-1.6zM325.0,320.0h1.6v20.0h-1.6zM205.0,360.0h1.6v20.0h-1.6zM85.0,480.0h1.6v20.0h-1.6zM2405.0,520.0h1.6v20.0h-1.6zM445.0,600.0h1.6v20.0h-1.6zM1325.0,720.0h1.6v20.0h-1.6zM2165.0,720.0h1.6v20.0h-1.6zM965.0,760.0h1.6v20.0h-1.6zM2005.0,760.0h1.6v20.0h-1.6zM925.0,800.0h1.6v20.0h-1.6zM1965.0,800.0h1.6v20.0h-1.6zM1525.0,840.0h1.6v20.0h-1.6zM325.0,920.0h1.6v20.0h-1.6zM725.0,920.0h1.6v20.0h-1.6zM1760.0,5.0h40.0v1.6h-40.0zM1800.0,5.0h40.0v1.6h-40.0zM1840.0,5.0h40.0v1.6h-40.0zM1880.0,5.0h40.0v1.6h-40.0zM1920.0,5.0h40.0v1.6h-40.0zM1960.0,5.0h40.0v1.6h-40.0zM2000.0,5.0h40.0v1.6h-40.0zM2040.0,5.0h40.0v1.6h-40.0zM2080.0,5.0h40.0v1.6h-40.0zM2120.0,5.0h40.0v1.6h-40.0zM2160.0,5.0h40.0v1.6h-40.0zM2200.0,5.0h40.0v1.6h-40.0zM2240.0,5.0h40.0v1.6h-40.0zM2280.0,5.0h40.0v1.6h-40.0zM2320.0,45.0h40.0v1.6h-40.0zM680.0,85.0h40.0v1.6h-40.0zM720.0,85.0h40.0v1.6h-40.0zM760.0,85.0h40.0v1.6h-40.0zM800.0,85.0h40.0v1.6h-40.0zM840.0,85.0h40.0v1.6h-40.0zM880.0,85.0h40.0v1.6h-40.0zM920.0,85.0h40.0v1.6h-40.0zM960.0,85.0h40.0v1.6h-40.0zM1000.0,85.0h40.0v1.6h-40.0zM1040.0,85.0h40.0v1.6h-40.0zM1080.0,85.0h40.0v1.6h-40.0zM1720.0,85.0h40.0v1.6h-40.0zM520.0,125.0h40.0v1.6h-40.0zM560.0,125.0h40.0v1.6h-40.0zM600.0,125.0h40.0v1.6h-40.0zM640.0,125.0h40.0v1.6h-40.0zM1560.0,125.0h40.0v1.6h-40.0zM1600.0,125.0h40.0v1.6h-40.0zM1640.0,125.0h40.0v1.6h-40.0zM1680.0,125.0h40.0v1.6h-40.0zM480.0,165.0h40.0v1.6h-40.0zM1120.0,165.0h40.0v1.6h-40.0zM1160.0,165.0h40.0v1.6h-40.0zM1520.0,165.0h40.0v1.6h-40.0zM2280.0,165.0h40.0v1.6h-40.0zM2360.0,165.0h40.0v1.6h-40.0zM2400.0,165.0h40.0v1.6h-40.0zM320.0,205.0h40.0v1.6h-40.0zM360.0,205.0h40.0v1.6h-40.0zM400.0,205.0h40.0v1.6h-40.0zM440.0,205.0h40.0v1.6h-40.0zM1200.0,205.0h40.0v1.6h-40.0zM1240.0,205.0h40.0v1.6h-40.0zM1280.0,205.0h40.0v1.6h-40.0zM1320.0,205.0h40.0v1.6h-40.0zM1360.0,205.0h40.0v1.6h-40.0zM1400.0,205.0h40.0v1.6h-40.0zM1440.0,205.0h40.0v1.6h-40.0zM1480.0,205.0h40.0v1.6h-40.0zM2440.0,205.0h40.0v1.6h-40.0zM2000.0,245.0h40.0v1.6h-40.0zM1120.0,285.0h40.0v1.6h-40.0zM1960.0,285.0h40.0v1.6h-40.0zM2080.0,325.0h40.0v1.6h-40.0zM200.0,365.0h40.0v1.6h-40.0zM240.0,365.0h40.0v1.6h-40.0zM280.0,365.0h40.0v1.6h-40.0zM360.0,365.0h40.0v1.6h-40.0zM760.0,365.0h40.0v1.6h-40.0zM80.0,405.0h40.0v1.6h-40.0zM120.0,405.0h40.0v1.6h-40.0zM160.0,405.0h40.0v1.6h-40.0zM1080.0,485.0h40.0v1.6h-40.0zM1400.0,485.0h40.0v1.6h-40.0zM40.0,525.0h40.0v1.6h-40.0zM2320.0,565.0h40.0v1.6h-40.0zM2360.0,565.0h40.0v1.6h-40.0zM440.0,605.0h40.0v1.6h-40.0zM1720.0,605.0h40.0v1.6h-40.0zM2120.0,605.0h40.0v1.6h-40.0zM2160.0,605.0h40.0v1.6h-40.0zM2200.0,605.0h40.0v1.6h-40.0zM2240.0,605.0h40.0v1.6h-40.0zM400.0,645.0h40.0v1.6h-40.0zM520.0,685.0h40.0v1.6h-40.0zM1320.0,685.0h40.0v1.6h-40.0zM1360.0,685.0h40.0v1.6h-40.0zM960.0,725.0h40.0v1.6h-40.0zM80.0,765.0h40.0v1.6h-40.0zM1000.0,765.0h40.0v1.6h-40.0zM1040.0,765.0h40.0v1.6h-40.0zM1080.0,765.0h40.0v1.6h-40.0zM1120.0,765.0h40.0v1.6h-40.0zM1160.0,765.0h40.0v1.6h-40.0zM1200.0,765.0h40.0v1.6h-40.0zM1240.0,765.0h40.0v1.6h-40.0zM1280.0,765.0h40.0v1.6h-40.0zM2000.0,765.0h40.0v1.6h-40.0zM2040.0,765.0h40.0v1.6h-40.0zM2080.0,765.0h40.0v1.6h-40.0zM2120.0,765.0h40.0v1.6h-40.0zM120.0,805.0h40.0v1.6h-40.0zM160.0,805.0h40.0v1.6h-40.0zM200.0,805.0h40.0v1.6h-40.0zM920.0,805.0h40.0v1.6h-40.0zM1360.0,805.0h40.0v1.6h-40.0zM1400.0,805.0h40.0v1.6h-40.0zM1960.0,805.0h40.0v1.6h-40.0zM800.0,845.0h40.0v1.6h-40.0zM840.0,845.0h40.0v1.6h-40.0zM880.0,845.0h40.0v1.6h-40.0zM1520.0,845.0h40.0v1.6h-40.0zM1840.0,845.0h40.0v1.6h-40.0zM1880.0,845.0h40.0v1.6h-40.0zM1920.0,845.0h40.0v1.6h-40.0zM1440.0,885.0h40.0v1.6h-40.0zM1480.0,885.0h40.0v1.6h-40.0zM1560.0,885.0h40.0v1.6h-40.0zM1600.0,885.0h40.0v1.6h-40.0zM1640.0,885.0h40.0v1.6h-40.0zM1680.0,885.0h40.0v1.6h-40.0zM1720.0,885.0h40.0v1.6h-40.0zM1760.0,885.0h40.0v1.6h-40.0zM200.0,925.0h40.0v1.6h-40.0zM320.0,925.0h40.0v1.6h-40.0zM240.0,965.0h40.0v1.6h-40.0zM280.0,965.0h40.0v1.6h-40.0zM400.0,965.0h40.0v1.6h-40.0zM440.0,965.0h40.0v1.6h-40.0zM480.0,965.0h40.0v1.6h-40.0zM520.0,965.0h40.0v1.6h-40.0zM560.0,965.0h40.0v1.6h-40.0zM600.0,965.0h40.0v1.6h-40.0zM640.0,965.0h40.0v1.6h-40.0zM680.0,965.0h40.0v1.6h-40.0z" fill="#545358"/>
<path d="M2313.6,0.0h1.4v40.0h-1.4zM1793.6,40.0h1.4v40.0h-1.4zM2193.6,40.0h1.4v40.0h-1.4zM2353.6,40.0h1.4v40.0h-1.4zM1113.6,80.0h1.4v40.0h-1.4zM2353.6,80.0h1.4v40.0h-1.4zM993.6,120.0h1.4v40.0h-1.4zM1113.6,120.0h1.4v40.0h-1.4zM2353.6,120.0h1.4v40.0h-1.4zM553.6,160.0h1.4v40.0h-1.4zM1193.6,160.0h1.4v40.0h-1.4zM1593.6,160.0h1.4v40.0h-1.4zM2433.6,160.0h1.4v40.0h-1.4zM513.6,200.0h1.4v40.0h-1.4zM1553.6,200.0h1.4v40.0h-1.4zM2473.6,200.0h1.4v40.0h-1.4zM353.6,240.0h1.4v40.0h-1.4zM1193.6,240.0h1.4v40.0h-1.4zM1553.6,240.0h1.4v40.0h-1.4zM2033.6,240.0h1.4v40.0h-1.4zM2473.6,240.0h1.4v40.0h-1.4zM353.6,280.0h1.4v40.0h-1.4zM1193.6,280.0h1.4v40.0h-1.4zM2473.6,280.0h1.4v40.0h-1.4zM353.6,320.0h1.4v40.0h-1.4zM2113.6,320.0h1.4v40.0h-1.4zM2473.6,320.0h1.4v40.0h-1.4zM393.6,360.0h1.4v40.0h-1.4zM793.6,360.0h1.4v40.0h-1.4zM2073.6,360.0h1.4v40.0h-1.4zM2473.6,360.0h1.4v40.0h-1.4zM2473.6,400.0h1.4v40.0h-1.4zM113.6,440.0h1.4v40.0h-1.4zM2473.6,440.0h1.4v40.0h-1.4zM113.6,480.0h1.4v40.0h-1.4zM1113.6,480.0h1.4v40.0h-1.4zM1433.6,480.0h1.4v40.0h-1.4zM2433.6,480.0h1.4v40.0h-1.4zM2433.6,520.0h1.4v40.0h-1.4zM73.6,560.0h1.4v40.0h-1.4zM2433.6,560.0h1.4v40.0h-1.4zM73.6,600.0h1.4v40.0h-1.4zM473.6,600.0h1.4v40.0h-1.4zM1753.6,600.0h1.4v40.0h-1.4zM2313.6,600.0h1.4v40.0h-1.4zM73.6,640.0h1.4v40.0h-1.4zM2193.6,640.0h1.4v40.0h-1.4zM73.6,680.0h1.4v40.0h-1.4zM553.6,680.0h1.4v40.0h-1.4zM1393.6,680.0h1.4v40.0h-1.4zM2193.6,680.0h1.4v40.0h-1.4zM73.6,720.0h1.4v40.0h-1.4zM513.6,720.0h1.4v40.0h-1.4zM993.6,720.0h1.4v40.0h-1.4zM1353.6,720.0h1.4v40.0h-1.4zM2193.6,720.0h1.4v40.0h-1.4zM113.6,760.0h1.4v40.0h-1.4zM1353.6,760.0h1.4v40.0h-1.4zM2193.6,760.0h1.4v40.0h-1.4zM233.6,800.0h1.4v40.0h-1.4zM993.6,800.0h1.4v40.0h-1.4zM1433.6,800.0h1.4v40.0h-1.4zM2033.6,800.0h1.4v40.0h-1.4zM193.6,840.0h1.4v40.0h-1.4zM953.6,840.0h1.4v40.0h-1.4zM1433.6,840.0h1.4v40.0h-1.4zM1553.6,840.0h1.4v40.0h-1.4zM1993.6,840.0h1.4v40.0h-1.4zM193.6,880.0h1.4v40.0h-1.4zM793.6,880.0h1.4v40.0h-1.4zM1833.6,880.0h1.4v40.0h-1.4zM233.6,920.0h1.4v40.0h-1.4zM753.6,920.0h1.4v40.0h-1.4zM753.6,960.0h1.4v40.0h-1.4zM1800.0,33.6h40.0v1.4h-40.0zM1840.0,33.6h40.0v1.4h-40.0zM1880.0,33.6h40.0v1.4h-40.0zM1920.0,33.6h40.0v1.4h-40.0zM1960.0,33.6h40.0v1.4h-40.0zM2000.0,33.6h40.0v1.4h-40.0zM2040.0,33.6h40.0v1.4h-40.0zM2080.0,33.6h40.0v1.4h-40.0zM2200.0,33.6h40.0v1.4h-40.0zM2240.0,33.6h40.0v1.4h-40.0zM2160.0,73.6h40.0v1.4h-40.0zM2280.0,73.6h40.0v1.4h-40.0zM720.0,113.6h40.0v1.4h-40.0zM760.0,113.6h40.0v1.4h-40.0zM800.0,113.6h40.0v1.4h-40.0zM840.0,113.6h40.0v1.4h-40.0zM880.0,113.6h40.0v1.4h-40.0zM920.0,113.6h40.0v1.4h-40.0zM1000.0,113.6h40.0v1.4h-40.0zM1040.0,113.6h40.0v1.4h-40.0zM560.0,153.6h40.0v1.4h-40.0zM600.0,153.6h40.0v1.4h-40.0zM640.0,153.6h40.0v1.4h-40.0zM960.0,153.6h40.0v1.4h-40.0zM1600.0,153.6h40.0v1.4h-40.0zM1640.0,153.6h40.0v1.4h-40.0zM1680.0,153.6h40.0v1.4h-40.0zM520.0,193.6h40.0v1.4h-40.0zM1080.0,193.6h40.0v1.4h-40.0zM1120.0,193.6h40.0v1.4h-40.0zM1560.0,193.6h40.0v1.4h-40.0zM2280.0,193.6h40.0v1.4h-40.0zM2320.0,193.6h40.0v1.4h-40.0zM2360.0,193.6h40.0v1.4h-40.0zM360.0,233.6h40.0v1.4h-40.0zM400.0,233.6h40.0v1.4h-40.0zM440.0,233.6h40.0v1.4h-40.0zM480.0,233.6h40.0v1.4h-40.0zM1200.0,233.6h40.0v1.4h-40.0zM1240.0,233.6h40.0v1.4h-40.0zM1280.0,233.6h40.0v1.4h-40.0zM1320.0,233.6h40.0v1.4h-40.0zM1360.0,233.6h40.0v1.4h-40.0zM1400.0,233.6h40.0v1.4h-40.0zM1440.0,233.6h40.0v1.4h-40.0zM1480.0,233.6h40.0v1.4h-40.0zM2400.0,233.6h40.0v1.4h-40.0zM1520.0,273.6h40.0v1.4h-40.0zM1120.0,313.6h40.0v1.4h-40.0zM1160.0,313.6h40.0v1.4h-40.0zM1960.0,313.6h40.0v1.4h-40.0zM2080.0,353.6h40.0v1.4h-40.0zM240.0,393.6h40.0v1.4h-40.0zM280.0,393.6h40.0v1.4h-40.0zM320.0,393.6h40.0v1.4h-40.0zM360.0,393.6h40.0v1.4h-40.0zM760.0,393.6h40.0v1.4h-40.0zM2040.0,393.6h40.0v1.4h-40.0zM120.0,433.6h40.0v1.4h-40.0zM160.0,433.6h40.0v1.4h-40.0zM2440.0,473.6h40.0v1.4h-40.0zM1080.0,513.6h40.0v1.4h-40.0zM1400.0,513.6h40.0v1.4h-40.0zM2320.0,593.6h40.0v1.4h-40.0zM2360.0,593.6h40.0v1.4h-40.0zM2400.0,593.6h40.0v1.4h-40.0zM1720.0,633.6h40.0v1.4h-40.0zM2120.0,633.6h40.0v1.4h-40.0zM2200.0,633.6h40.0v1.4h-40.0zM2240.0,633.6h40.0v1.4h-40.0zM2280.0,633.6h40.0v1.4h-40.0zM400.0,673.6h40.0v1.4h-40.0zM520.0,713.6h40.0v1.4h-40.0zM1360.0,713.6h40.0v1.4h-40.0zM480.0,753.6h40.0v1.4h-40.0zM40.0,793.6h40.0v1.4h-40.0zM1000.0,793.6h40.0v1.4h-40.0zM1040.0,793.6h40.0v1.4h-40.0zM1080.0,793.6h40.0v1.4h-40.0zM1120.0,793.6h40.0v1.4h-40.0zM1160.0,793.6h40.0v1.4h-40.0zM1200.0,793.6h40.0v1.4h-40.0zM1240.0,793.6h40.0v1.4h-40.0zM1280.0,793.6h40.0v1.4h-40.0zM2040.0,793.6h40.0v1.4h-40.0zM2080.0,793.6h40.0v1.4h-40.0zM2120.0,793.6h40.0v1.4h-40.0zM2160.0,793.6h40.0v1.4h-40.0zM80.0,833.6h40.0v1.4h-40.0zM120.0,833.6h40.0v1.4h-40.0zM200.0,833.6h40.0v1.4h-40.0zM960.0,833.6h40.0v1.4h-40.0zM1320.0,833.6h40.0v1.4h-40.0zM1360.0,833.6h40.0v1.4h-40.0zM2000.0,833.6h40.0v1.4h-40.0zM800.0,873.6h40.0v1.4h-40.0zM840.0,873.6h40.0v1.4h-40.0zM880.0,873.6h40.0v1.4h-40.0zM920.0,873.6h40.0v1.4h-40.0zM1840.0,873.6h40.0v1.4h-40.0zM1880.0,873.6h40.0v1.4h-40.0zM1920.0,873.6h40.0v1.4h-40.0zM1960.0,873.6h40.0v1.4h-40.0zM760.0,913.6h40.0v1.4h-40.0zM1400.0,913.6h40.0v1.4h-40.0zM1440.0,913.6h40.0v1.4h-40.0zM1480.0,913.6h40.0v1.4h-40.0zM1520.0,913.6h40.0v1.4h-40.0zM1560.0,913.6h40.0v1.4h-40.0zM1600.0,913.6h40.0v1.4h-40.0zM1640.0,913.6h40.0v1.4h-40.0zM1680.0,913.6h40.0v1.4h-40.0zM1720.0,913.6h40.0v1.4h-40.0zM1760.0,913.6h40.0v1.4h-40.0zM1800.0,913.6h40.0v1.4h-40.0zM160.0,953.6h40.0v1.4h-40.0zM200.0,993.6h40.0v1.4h-40.0zM240.0,993.6h40.0v1.4h-40.0zM280.0,993.6h40.0v1.4h-40.0zM320.0,993.6h40.0v1.4h-40.0zM360.0,993.6h40.0v1.4h-40.0zM400.0,993.6h40.0v1.4h-40.0zM440.0,993.6h40.0v1.4h-40.0zM480.0,993.6h40.0v1.4h-40.0zM520.0,993.6h40.0v1.4h-40.0zM560.0,993.6h40.0v1.4h-40.0zM600.0,993.6h40.0v1.4h-40.0zM640.0,993.6h40.0v1.4h-40.0zM680.0,993.6h40.0v1.4h-40.0zM720.0,993.6h40.0v1.4h-40.0z" fill="#56555a"/>
<path d="M1760.0,0.0h5.0v40.0h-5.0zM2280.0,40.0h5.0v40.0h-5.0zM2320.0,80.0h5.0v40.0h-5.0zM960.0,120.0h5.0v40.0h-5.0zM1080.0,120.0h5.0v40.0h-5.0zM1080.0,160.0h5.0v40.0h-5.0zM2280.0,160.0h5.0v40.0h-5.0zM320.0,200.0h5.0v40.0h-5.0zM1160.0,200.0h5.0v40.0h-5.0zM2400.0,200.0h5.0v40.0h-5.0zM320.0,240.0h5.0v40.0h-5.0zM1520.0,240.0h5.0v40.0h-5.0zM2440.0,240.0h5.0v40.0h-5.0zM320.0,280.0h5.0v40.0h-5.0zM1120.0,280.0h5.0v40.0h-5.0zM1960.0,280.0h5.0v40.0h-5.0zM2440.0,280.0h5.0v40.0h-5.0zM2440.0,320.0h5.0v40.0h-5.0zM760.0,360.0h5.0v40.0h-5.0zM2040.0,360.0h5.0v40.0h-5.0zM2440.0,360.0h5.0v40.0h-5.0zM80.0,400.0h5.0v40.0h-5.0zM2440.0,400.0h5.0v40.0h-5.0zM80.0,440.0h5.0v40.0h-5.0zM1080.0,480.0h5.0v40.0h-5.0zM1400.0,480.0h5.0v40.0h-5.0zM2400.0,480.0h5.0v40.0h-5.0zM40.0,520.0h5.0v40.0h-5.0zM40.0,560.0h5.0v40.0h-5.0zM40.0,600.0h5.0v40.0h-5.0zM1720.0,600.0h5.0v40.0h-5.0zM2120.0,600.0h5.0v40.0h-5.0zM40.0,640.0h5.0v40.0h-5.0zM400.0,640.0h5.0v40.0h-5.0zM2160.0,640.0h5.0v40.0h-5.0zM40.0,680.0h5.0v40.0h-5.0zM1320.0,680.0h5.0v40.0h-5.0zM2160.0,680.0h5.0v40.0h-5.0zM40.0,720.0h5.0v40.0h-5.0zM480.0,720.0h5.0v40.0h-5.0zM960.0,720.0h5.0v40.0h-5.0zM40.0,760.0h5.0v40.0h-5.0zM80.0,800.0h5.0v40.0h-5.0zM1320.0,800.0h5.0v40.0h-5.0zM160.0,840.0h5.0v40.0h-5.0zM1400.0,840.0h5.0v40.0h-5.0zM160.0,880.0h5.0v40.0h-5.0zM1400.0,880.0h5.0v40.0h-5.0zM160.0,920.0h5.0v40.0h-5.0zM200.0,960.0h5.0v40.0h-5.0zM1760.0,40.0h5.0v20.0h-5.0zM680.0,80.0h5.0v20.0h-5.0zM1720.0,80.0h5.0v20.0h-5.0zM520.0,120.0h5.0v20.0h-5.0zM1560.0,120.0h5.0v20.0h-5.0zM2320.0,120.0h5.0v20.0h-5.0zM480.0,160.0h5.0v20.0h-5.0zM1520.0,160.0h5.0v20.0h-5.0zM1160.0,240.0h5.0v20.0h-5.0zM2000.0,240.0h5.0v20.0h-5.0zM320.0,320.0h5.0v20.0h-5.0zM200.0,360.0h5.0v20.0h-5.0zM80.0,480.0h5.0v20.0h-5.0zM2400.0,520.0h5.0v20.0h-5.0zM440.0,600.0h5.0v20.0h-5.0zM1320.0,720.0h5.0v20.0h-5.0zM2160.0,720.0h5.0v20.0h-5.0zM960.0,760.0h5.0v20.0h-5.0zM2000.0,760.0h5.0v20.0h-5.0zM920.0,800.0h5.0v20.0h-5.0zM1960.0,800.0h5.0v20.0h-5.0zM1520.0,840.0h5.0v20.0h-5.0zM320.0,920.0h5.0v20.0h-5.0zM720.0,920.0h5.0v20.0h-5.0z" fill="#3d3c41"/>
<path d="M1763.0,0.0h2.0v40.0h-2.0zM2283.0,40.0h2.0v40.0h-2.0zM2323.0,80.0h2.0v40.0h-2.0zM963.0,120.0h2.0v40.0h-2.0zM1083.0,120.0h2.0v40.0h-2.0zM1083.0,160.0h2.0v40.0h-2.0zM2283.0,160.0h2.0v40.0h-2.0zM323.0,200.0h2.0v40.0h-2.0zM1163.0,200.0h2.0v40.0h-2.0zM2403.0,200.0h2.0v40.0h-2.0zM323.0,240.0h2.0v40.0h-2.0zM1523.0,240.0h2.0v40.0h-2.0zM2443.0,240.0h2.0v40.0h-2.0zM323.0,280.0h2.0v40.0h-2.0zM1123.0,280.0h2.0v40.0h-2.0zM1963.0,280.0h2.0v40.0h-2.0zM2443.0,280.0h2.0v40.0h-2.0zM2443.0,320.0h2.0v40.0h-2.0zM763.0,360.0h2.0v40.0h-2.0zM2043.0,360.0h2.0v40.0h-2.0zM2443.0,360.0h2.0v40.0h-2.0zM83.0,400.0h2.0v40.0h-2.0zM2443.0,400.0h2.0v40.0h-2.0zM83.0,440.0h2.0v40.0h-2.0zM1083.0,480.0h2.0v40.0h-2.0zM1403.0,480.0h2.0v40.0h-2.0zM2403.0,480.0h2.0v40.0h-2.0zM43.0,520.0h2.0v40.0h-2.0zM43.0,560.0h2.0v40.0h-2.0zM43.0,600.0h2.0v40.0h-2.0zM1723.0,600.0h2.0v40.0h-2.0zM2123.0,600.0h2.0v40.0h-2.0zM43.0,640.0h2.0v40.0h-2.0zM403.0,640.0h2.0v40.0h-2.0zM2163.0,640.0h2.0v40.0h-2.0zM43.0,680.0h2.0v40.0h-2.0zM1323.0,680.0h2.0v40.0h-2.0zM2163.0,680.0h2.0v40.0h-2.0zM43.0,720.0h2.0v40.0h-2.0zM483.0,720.0h2.0v40.0h-2.0zM963.0,720.0h2.0v40.0h-2.0zM43.0,760.0h2.0v40.0h-2.0zM83.0,800.0h2.0v40.0h-2.0zM1323.0,800.0h2.0v40.0h-2.0zM163.0,840.0h2.0v40.0h-2.0zM1403.0,840.0h2.0v40.0h-2.0zM163.0,880.0h2.0v40.0h-2.0zM1403.0,880.0h2.0v40.0h-2.0zM163.0,920.0h2.0v40.0h-2.0zM203.0,960.0h2.0v40.0h-2.0zM1763.0,40.0h2.0v20.0h-2.0zM683.0,80.0h2.0v20.0h-2.0zM1723.0,80.0h2.0v20.0h-2.0zM523.0,120.0h2.0v20.0h-2.0zM1563.0,120.0h2.0v20.0h-2.0zM2323.0,120.0h2.0v20.0h-2.0zM483.0,160.0h2.0v20.0h-2.0zM1523.0,160.0h2.0v20.0h-2.0zM1163.0,240.0h2.0v20.0h-2.0zM2003.0,240.0h2.0v20.0h-2.0zM323.0,320.0h2.0v20.0h-2.0zM203.0,360.0h2.0v20.0h-2.0zM83.0,480.0h2.0v20.0h-2.0zM2403.0,520.0h2.0v20.0h-2.0zM443.0,600.0h2.0v20.0h-2.0zM1323.0,720.0h2.0v20.0h-2.0zM2163.0,720.0h2.0v20.0h-2.0zM963.0,760.0h2.0v20.0h-2.0zM2003.0,760.0h2.0v20.0h-2.0zM923.0,800.0h2.0v20.0h-2.0zM1963.0,800.0h2.0v20.0h-2.0zM1523.0,840.0h2.0v20.0h-2.0zM323.0,920.0h2.0v20.0h-2.0zM723.0,920.0h2.0v20.0h-2.0z" fill="#343338"/>
<path d="M1760.0,0.0h40.0v5.0h-40.0zM1800.0,0.0h40.0v5.0h-40.0zM1840.0,0.0h40.0v5.0h-40.0zM1880.0,0.0h40.0v5.0h-40.0zM1920.0,0.0h40.0v5.0h-40.0zM1960.0,0.0h40.0v5.0h-40.0zM2000.0,0.0h40.0v5.0h-40.0zM2040.0,0.0h40.0v5.0h-40.0zM2080.0,0.0h40.0v5.0h-40.0zM2120.0,0.0h40.0v5.0h-40.0zM2160.0,0.0h40.0v5.0h-40.0zM2200.0,0.0h40.0v5.0h-40.0zM2240.0,0.0h40.0v5.0h-40.0zM2280.0,0.0h40.0v5.0h-40.0zM2320.0,40.0h40.0v5.0h-40.0zM680.0,80.0h40.0v5.0h-40.0zM720.0,80.0h40.0v5.0h-40.0zM760.0,80.0h40.0v5.0h-40.0zM800.0,80.0h40.0v5.0h-40.0zM840.0,80.0h40.0v5.0h-40.0zM880.0,80.0h40.0v5.0h-40.0zM920.0,80.0h40.0v5.0h-40.0zM960.0,80.0h40.0v5.0h-40.0zM1000.0,80.0h40.0v5.0h-40.0zM1040.0,80.0h40.0v5.0h-40.0zM1080.0,80.0h40.0v5.0h-40.0zM1720.0,80.0h40.0v5.0h-40.0zM520.0,120.0h40.0v5.0h-40.0zM560.0,120.0h40.0v5.0h-40.0zM600.0,120.0h40.0v5.0h-40.0zM640.0,120.0h40.0v5.0h-40.0zM1560.0,120.0h40.0v5.0h-40.0zM1600.0,120.0h40.0v5.0h-40.0zM1640.0,120.0h40.0v5.0h-40.0zM1680.0,120.0h40.0v5.0h-40.0zM480.0,160.0h40.0v5.0h-40.0zM1120.0,160.0h40.0v5.0h-40.0zM1160.0,160.0h40.0v5.0h-40.0zM1520.0,160.0h40.0v5.0h-40.0zM2280.0,160.0h40.0v5.0h-40.0zM2360.0,160.0h40.0v5.0h-40.0zM2400.0,160.0h40.0v5.0h-40.0zM320.0,200.0h40.0v5.0h-40.0zM360.0,200.0h40.0v5.0h-40.0zM400.0,200.0h40.0v5.0h-40.0zM440.0,200.0h40.0v5.0h-40.0zM1200.0,200.0h40.0v5.0h-40.0zM1240.0,200.0h40.0v5.0h-40.0zM1280.0,200.0h40.0v5.0h-40.0zM1320.0,200.0h40.0v5.0h-40.0zM1360.0,200.0h40.0v5.0h-40.0zM1400.0,200.0h40.0v5.0h-40.0zM1440.0,200.0h40.0v5.0h-40.0zM1480.0,200.0h40.0v5.0h-40.0zM2440.0,200.0h40.0v5.0h-40.0zM2000.0,240.0h40.0v5.0h-40.0zM1120.0,280.0h40.0v5.0h-40.0zM1960.0,280.0h40.0v5.0h-40.0zM2080.0,320.0h40.0v5.0h-40.0zM200.0,360.0h40.0v5.0h-40.0zM240.0,360.0h40.0v5.0h-40.0zM280.0,360.0h40.0v5.0h-40.0zM360.0,360.0h40.0v5.0h-40.0zM760.0,360.0h40.0v5.0h-40.0zM80.0,400.0h40.0v5.0h-40.0zM120.0,400.0h40.0v5.0h-40.0zM160.0,400.0h40.0v5.0h-40.0zM1080.0,480.0h40.0v5.0h-40.0zM1400.0,480.0h40.0v5.0h-40.0zM40.0,520.0h40.0v5.0h-40.0zM2320.0,560.0h40.0v5.0h-40.0zM2360.0,560.0h40.0v5.0h-40.0zM440.0,600.0h40.0v5.0h-40.0zM1720.0,600.0h40.0v5.0h-40.0zM2120.0,600.0h40.0v5.0h-40.0zM2160.0,600.0h40.0v5.0h-40.0zM2200.0,600.0h40.0v5.0h-40.0zM2240.0,600.0h40.0v5.0h-40.0zM400.0,640.0h40.0v5.0h-40.0zM520.0,680.0h40.0v5.0h-40.0zM1320.0,680.0h40.0v5.0h-40.0zM1360.0,680.0h40.0v5.0h-40.0zM960.0,720.0h40.0v5.0h-40.0zM80.0,760.0h40.0v5.0h-40.0zM1000.0,760.0h40.0v5.0h-40.0zM1040.0,760.0h40.0v5.0h-40.0zM1080.0,760.0h40.0v5.0h-40.0zM1120.0,760.0h40.0v5.0h-40.0zM1160.0,760.0h40.0v5.0h-40.0zM1200.0,760.0h40.0v5.0h-40.0zM1240.0,760.0h40.0v5.0h-40.0zM1280.0,760.0h40.0v5.0h-40.0zM2000.0,760.0h40.0v5.0h-40.0zM2040.0,760.0h40.0v5.0h-40.0zM2080.0,760.0h40.0v5.0h-40.0zM2120.0,760.0h40.0v5.0h-40.0zM120.0,800.0h40.0v5.0h-40.0zM160.0,800.0h40.0v5.0h-40.0zM200.0,800.0h40.0v5.0h-40.0zM920.0,800.0h40.0v5.0h-40.0zM1360.0,800.0h40.0v5.0h-40.0zM1400.0,800.0h40.0v5.0h-40.0zM1960.0,800.0h40.0v5.0h-40.0zM800.0,840.0h40.0v5.0h-40.0zM840.0,840.0h40.0v5.0h-40.0zM880.0,840.0h40.0v5.0h-40.0zM1520.0,840.0h40.0v5.0h-40.0zM1840.0,840.0h40.0v5.0h-40.0zM1880.0,840.0h40.0v5.0h-40.0zM1920.0,840.0h40.0v5.0h-40.0zM1440.0,880.0h40.0v5.0h-40.0zM1480.0,880.0h40.0v5.0h-40.0zM1560.0,880.0h40.0v5.0h-40.0zM1600.0,880.0h40.0v5.0h-40.0zM1640.0,880.0h40.0v5.0h-40.0zM1680.0,880.0h40.0v5.0h-40.0zM1720.0,880.0h40.0v5.0h-40.0zM1760.0,880.0h40.0v5.0h-40.0zM200.0,920.0h40.0v5.0h-40.0zM320.0,920.0h40.0v5.0h-40.0zM240.0,960.0h40.0v5.0h-40.0zM280.0,960.0h40.0v5.0h-40.0zM400.0,960.0h40.0v5.0h-40.0zM440.0,960.0h40.0v5.0h-40.0zM480.0,960.0h40.0v5.0h-40.0zM520.0,960.0h40.0v5.0h-40.0zM560.0,960.0h40.0v5.0h-40.0zM600.0,960.0h40.0v5.0h-40.0zM640.0,960.0h40.0v5.0h-40.0zM680.0,960.0h40.0v5.0h-40.0z" fill="#39383d"/>
<path d="M1760.0,0.0h1.0v40.0h-1.0zM2280.0,40.0h1.0v40.0h-1.0zM2320.0,80.0h1.0v40.0h-1.0zM960.0,120.0h1.0v40.0h-1.0zM1080.0,120.0h1.0v40.0h-1.0zM1080.0,160.0h1.0v40.0h-1.0zM2280.0,160.0h1.0v40.0h-1.0zM320.0,200.0h1.0v40.0h-1.0zM1160.0,200.0h1.0v40.0h-1.0zM2400.0,200.0h1.0v40.0h-1.0zM320.0,240.0h1.0v40.0h-1.0zM1520.0,240.0h1.0v40.0h-1.0zM2440.0,240.0h1.0v40.0h-1.0zM320.0,280.0h1.0v40.0h-1.0zM1120.0,280.0h1.0v40.0h-1.0zM1960.0,280.0h1.0v40.0h-1.0zM2440.0,280.0h1.0v40.0h-1.0zM2440.0,320.0h1.0v40.0h-1.0zM760.0,360.0h1.0v40.0h-1.0zM2040.0,360.0h1.0v40.0h-1.0zM2440.0,360.0h1.0v40.0h-1.0zM80.0,400.0h1.0v40.0h-1.0zM2440.0,400.0h1.0v40.0h-1.0zM80.0,440.0h1.0v40.0h-1.0zM1080.0,480.0h1.0v40.0h-1.0zM1400.0,480.0h1.0v40.0h-1.0zM2400.0,480.0h1.0v40.0h-1.0zM40.0,520.0h1.0v40.0h-1.0zM40.0,560.0h1.0v40.0h-1.0zM40.0,600.0h1.0v40.0h-1.0zM1720.0,600.0h1.0v40.0h-1.0zM2120.0,600.0h1.0v40.0h-1.0zM40.0,640.0h1.0v40.0h-1.0zM400.0,640.0h1.0v40.0h-1.0zM2160.0,640.0h1.0v40.0h-1.0zM40.0,680.0h1.0v40.0h-1.0zM1320.0,680.0h1.0v40.0h-1.0zM2160.0,680.0h1.0v40.0h-1.0zM40.0,720.0h1.0v40.0h-1.0zM480.0,720.0h1.0v40.0h-1.0zM960.0,720.0h1.0v40.0h-1.0zM40.0,760.0h1.0v40.0h-1.0zM80.0,800.0h1.0v40.0h-1.0zM1320.0,800.0h1.0v40.0h-1.0zM160.0,840.0h1.0v40.0h-1.0zM1400.0,840.0h1.0v40.0h-1.0zM160.0,880.0h1.0v40.0h-1.0zM1400.0,880.0h1.0v40.0h-1.0zM160.0,920.0h1.0v40.0h-1.0zM200.0,960.0h1.0v40.0h-1.0zM1760.0,40.0h1.0v20.0h-1.0zM680.0,80.0h1.0v20.0h-1.0zM1720.0,80.0h1.0v20.0h-1.0zM520.0,120.0h1.0v20.0h-1.0zM1560.0,120.0h1.0v20.0h-1.0zM2320.0,120.0h1.0v20.0h-1.0zM480.0,160.0h1.0v20.0h-1.0zM1520.0,160.0h1.0v20.0h-1.0zM1160.0,240.0h1.0v20.0h-1.0zM2000.0,240.0h1.0v20.0h-1.0zM320.0,320.0h1.0v20.0h-1.0zM200.0,360.0h1.0v20.0h-1.0zM80.0,480.0h1.0v20.0h-1.0zM2400.0,520.0h1.0v20.0h-1.0zM440.0,600.0h1.0v20.0h-1.0zM1320.0,720.0h1.0v20.0h-1.0zM2160.0,720.0h1.0v20.0h-1.0zM960.0,760.0h1.0v20.0h-1.0zM2000.0,760.0h1.0v20.0h-1.0zM920.0,800.0h1.0v20.0h-1.0zM1960.0,800.0h1.0v20.0h-1.0zM1520.0,840.0h1.0v20.0h-1.0zM320.0,920.0h1.0v20.0h-1.0zM720.0,920.0h1.0v20.0h-1.0zM1760.0,0.0h40.0v1.0h-40.0zM1800.0,0.0h40.0v1.0h-40.0zM1840.0,0.0h40.0v1.0h-40.0zM1880.0,0.0h40.0v1.0h-40.0zM1920.0,0.0h40.0v1.0h-40.0zM1960.0,0.0h40.0v1.0h-40.0zM2000.0,0.0h40.0v1.0h-40.0zM2040.0,0.0h40.0v1.0h-40.0zM2080.0,0.0h40.0v1.0h-40.0zM2120.0,0.0h40.0v1.0h-40.0zM2160.0,0.0h40.0v1.0h-40.0zM2200.0,0.0h40.0v1.0h-40.0zM2240.0,0.0h40.0v1.0h-40.0zM2280.0,0.0h40.0v1.0h-40.0zM2320.0,40.0h40.0v1.0h-40.0zM680.0,80.0h40.0v1.0h-40.0zM720.0,80.0h40.0v1.0h-40.0zM760.0,80.0h40.0v1.0h-40.0zM800.0,80.0h40.0v1.0h-40.0zM840.0,80.0h40.0v1.0h-40.0zM880.0,80.0h40.0v1.0h-40.0zM920.0,80.0h40.0v1.0h-40.0zM960.0,80.0h40.0v1.0h-40.0zM1000.0,80.0h40.0v1.0h-40.0zM1040.0,80.0h40.0v1.0h-40.0zM1080.0,80.0h40.0v1.0h-40.0zM1720.0,80.0h40.0v1.0h-40.0zM520.0,120.0h40.0v1.0h-40.0zM560.0,120.0h40.0v1.0h-40.0zM600.0,120.0h40.0v1.0h-40.0zM640.0,120.0h40.0v1.0h-40.0zM1560.0,120.0h40.0v1.0h-40.0zM1600.0,120.0h40.0v1.0h-40.0zM1640.0,120.0h40.0v1.0h-40.0zM1680.0,120.0h40.0v1.0h-40.0zM480.0,160.0h40.0v1.0h-40.0zM1120.0,160.0h40.0v1.0h-40.0zM1160.0,160.0h40.0v1.0h-40.0zM1520.0,160.0h40.0v1.0h-40.0zM2280.0,160.0h40.0v1.0h-40.0zM2360.0,160.0h40.0v1.0h-40.0zM2400.0,160.0h40.0v1.0h-40.0zM320.0,200.0h40.0v1.0h-40.0zM360.0,200.0h40.0v1.0h-40.0zM400.0,200.0h40.0v1.0h-40.0zM440.0,200.0h40.0v1.0h-40.0zM1200.0,200.0h40.0v1.0h-40.0zM1240.0,200.0h40.0v1.0h-40.0zM1280.0,200.0h40.0v1.0h-40.0zM1320.0,200.0h40.0v1.0h-40.0zM1360.0,200.0h40.0v1.0h-40.0zM1400.0,200.0h40.0v1.0h-40.0zM1440.0,200.0h40.0v1.0h-40.0zM1480.0,200.0h40.0v1.0h-40.0zM2440.0,200.0h40.0v1.0h-40.0zM2000.0,240.0h40.0v1.0h-40.0zM1120.0,280.0h40.0v1.0h-40.0zM1960.0,280.0h40.0v1.0h-40.0zM2080.0,320.0h40.0v1.0h-40.0zM200.0,360.0h40.0v1.0h-40.0zM240.0,360.0h40.0v1.0h-40.0zM280.0,360.0h40.0v1.0h-40.0zM360.0,360.0h40.0v1.0h-40.0zM760.0,360.0h40.0v1.0h-40.0zM80.0,400.0h40.0v1.0h-40.0zM120.0,400.0h40.0v1.0h-40.0zM160.0,400.0h40.0v1.0h-40.0zM1080.0,480.0h40.0v1.0h-40.0zM1400.0,480.0h40.0v1.0h-40.0zM40.0,520.0h40.0v1.0h-40.0zM2320.0,560.0h40.0v1.0h-40.0zM2360.0,560.0h40.0v1.0h-40.0zM440.0,600.0h40.0v1.0h-40.0zM1720.0,600.0h40.0v1.0h-40.0zM2120.0,600.0h40.0v1.0h-40.0zM2160.0,600.0h40.0v1.0h-40.0zM2200.0,600.0h40.0v1.0h-40.0zM2240.0,600.0h40.0v1.0h-40.0zM400.0,640.0h40.0v1.0h-40.0zM520.0,680.0h40.0v1.0h-40.0zM1320.0,680.0h40.0v1.0h-40.0zM1360.0,680.0h40.0v1.0h-40.0zM960.0,720.0h40.0v1.0h-40.0zM80.0,760.0h40.0v1.0h-40.0zM1000.0,760.0h40.0v1.0h-40.0zM1040.0,760.0h40.0v1.0h-40.0zM1080.0,760.0h40.0v1.0h-40.0zM1120.0,760.0h40.0v1.0h-40.0zM1160.0,760.0h40.0v1.0h-40.0zM1200.0,760.0h40.0v1.0h-40.0zM1240.0,760.0h40.0v1.0h-40.0zM1280.0,760.0h40.0v1.0h-40.0zM2000.0,760.0h40.0v1.0h-40.0zM2040.0,760.0h40.0v1.0h-40.0zM2080.0,760.0h40.0v1.0h-40.0zM2120.0,760.0h40.0v1.0h-40.0zM120.0,800.0h40.0v1.0h-40.0zM160.0,800.0h40.0v1.0h-40.0zM200.0,800.0h40.0v1.0h-40.0zM920.0,800.0h40.0v1.0h-40.0zM1360.0,800.0h40.0v1.0h-40.0zM1400.0,800.0h40.0v1.0h-40.0zM1960.0,800.0h40.0v1.0h-40.0zM800.0,840.0h40.0v1.0h-40.0zM840.0,840.0h40.0v1.0h-40.0zM880.0,840.0h40.0v1.0h-40.0zM1520.0,840.0h40.0v1.0h-40.0zM1840.0,840.0h40.0v1.0h-40.0zM1880.0,840.0h40.0v1.0h-40.0zM1920.0,840.0h40.0v1.0h-40.0zM1440.0,880.0h40.0v1.0h-40.0zM1480.0,880.0h40.0v1.0h-40.0zM1560.0,880.0h40.0v1.0h-40.0zM1600.0,880.0h40.0v1.0h-40.0zM1640.0,880.0h40.0v1.0h-40.0zM1680.0,880.0h40.0v1.0h-40.0zM1720.0,880.0h40.0v1.0h-40.0zM1760.0,880.0h40.0v1.0h-40.0zM200.0,920.0h40.0v1.0h-40.0zM320.0,920.0h40.0v1.0h-40.0zM240.0,960.0h40.0v1.0h-40.0zM280.0,960.0h40.0v1.0h-40.0zM400.0,960.0h40.0v1.0h-40.0zM440.0,960.0h40.0v1.0h-40.0zM480.0,960.0h40.0v1.0h-40.0zM520.0,960.0h40.0v1.0h-40.0zM560.0,960.0h40.0v1.0h-40.0zM600.0,960.0h40.0v1.0h-40.0zM640.0,960.0h40.0v1.0h-40.0zM680.0,960.0h40.0v1.0h-40.0z" fill="#2e2d32"/>
<path d="M2315.0,0.0h5.0v40.0h-5.0zM1795.0,40.0h5.0v40.0h-5.0zM2195.0,40.0h5.0v40.0h-5.0zM2355.0,40.0h5.0v40.0h-5.0zM1115.0,80.0h5.0v40.0h-5.0zM2355.0,80.0h5.0v40.0h-5.0zM995.0,120.0h5.0v40.0h-5.0zM1115.0,120.0h5.0v40.0h-5.0zM2355.0,120.0h5.0v40.0h-5.0zM555.0,160.0h5.0v40.0h-5.0zM1195.0,160.0h5.0v40.0h-5.0zM1595.0,160.0h5.0v40.0h-5.0zM2435.0,160.0h5.0v40.0h-5.0zM515.0,200.0h5.0v40.0h-5.0zM1555.0,200.0h5.0v40.0h-5.0zM2475.0,200.0h5.0v40.0h-5.0zM355.0,240.0h5.0v40.0h-5.0zM1195.0,240.0h5.0v40.0h-5.0zM1555.0,240.0h5.0v40.0h-5.0zM2035.0,240.0h5.0v40.0h-5.0zM2475.0,240.0h5.0v40.0h-5.0zM355.0,280.0h5.0v40.0h-5.0zM1195.0,280.0h5.0v40.0h-5.0zM2475.0,280.0h5.0v40.0h-5.0zM355.0,320.0h5.0v40.0h-5.0zM2115.0,320.0h5.0v40.0h-5.0zM2475.0,320.0h5.0v40.0h-5.0zM395.0,360.0h5.0v40.0h-5.0zM795.0,360.0h5.0v40.0h-5.0zM2075.0,360.0h5.0v40.0h-5.0zM2475.0,360.0h5.0v40.0h-5.0zM2475.0,400.0h5.0v40.0h-5.0zM115.0,440.0h5.0v40.0h-5.0zM2475.0,440.0h5.0v40.0h-5.0zM115.0,480.0h5.0v40.0h-5.0zM1115.0,480.0h5.0v40.0h-5.0zM1435.0,480.0h5.0v40.0h-5.0zM2435.0,480.0h5.0v40.0h-5.0zM2435.0,520.0h5.0v40.0h-5.0zM75.0,560.0h5.0v40.0h-5.0zM2435.0,560.0h5.0v40.0h-5.0zM75.0,600.0h5.0v40.0h-5.0zM475.0,600.0h5.0v40.0h-5.0zM1755.0,600.0h5.0v40.0h-5.0zM2315.0,600.0h5.0v40.0h-5.0zM75.0,640.0h5.0v40.0h-5.0zM2195.0,640.0h5.0v40.0h-5.0zM75.0,680.0h5.0v40.0h-5.0zM555.0,680.0h5.0v40.0h-5.0zM1395.0,680.0h5.0v40.0h-5.0zM2195.0,680.0h5.0v40.0h-5.0zM75.0,720.0h5.0v40.0h-5.0zM515.0,720.0h5.0v40.0h-5.0zM995.0,720.0h5.0v40.0h-5.0zM1355.0,720.0h5.0v40.0h-5.0zM2195.0,720.0h5.0v40.0h-5.0zM115.0,760.0h5.0v40.0h-5.0zM1355.0,760.0h5.0v40.0h-5.0zM2195.0,760.0h5.0v40.0h-5.0zM235.0,800.0h5.0v40.0h-5.0zM995.0,800.0h5.0v40.0h-5.0zM1435.0,800.0h5.0v40.0h-5.0zM2035.0,800.0h5.0v40.0h-5.0zM195.0,840.0h5.0v40.0h-5.0zM955.0,840.0h5.0v40.0h-5.0zM1435.0,840.0h5.0v40.0h-5.0zM1555.0,840.0h5.0v40.0h-5.0zM1995.0,840.0h5.0v40.0h-5.0zM195.0,880.0h5.0v40.0h-5.0zM795.0,880.0h5.0v40.0h-5.0zM1835.0,880.0h5.0v40.0h-5.0zM235.0,920.0h5.0v40.0h-5.0zM755.0,920.0h5.0v40.0h-5.0zM755.0,960.0h5.0v40.0h-5.0z" fill="#232227"/>
<path d="M1800.0,35.0h40.0v5.0h-40.0zM1840.0,35.0h40.0v5.0h-40.0zM1880.0,35.0h40.0v5.0h-40.0zM1920.0,35.0h40.0v5.0h-40.0zM1960.0,35.0h40.0v5.0h-40.0zM2000.0,35.0h40.0v5.0h-40.0zM2040.0,35.0h40.0v5.0h-40.0zM2080.0,35.0h40.0v5.0h-40.0zM2200.0,35.0h40.0v5.0h-40.0zM2240.0,35.0h40.0v5.0h-40.0zM2160.0,75.0h40.0v5.0h-40.0zM2280.0,75.0h40.0v5.0h-40.0zM720.0,115.0h40.0v5.0h-40.0zM760.0,115.0h40.0v5.0h-40.0zM800.0,115.0h40.0v5.0h-40.0zM840.0,115.0h40.0v5.0h-40.0zM880.0,115.0h40.0v5.0h-40.0zM920.0,115.0h40.0v5.0h-40.0zM1000.0,115.0h40.0v5.0h-40.0zM1040.0,115.0h40.0v5.0h-40.0zM560.0,155.0h40.0v5.0h-40.0zM600.0,155.0h40.0v5.0h-40.0zM640.0,155.0h40.0v5.0h-40.0zM960.0,155.0h40.0v5.0h-40.0zM1600.0,155.0h40.0v5.0h-40.0zM1640.0,155.0h40.0v5.0h-40.0zM1680.0,155.0h40.0v5.0h-40.0zM520.0,195.0h40.0v5.0h-40.0zM1080.0,195.0h40.0v5.0h-40.0zM1120.0,195.0h40.0v5.0h-40.0zM1560.0,195.0h40.0v5.0h-40.0zM2280.0,195.0h40.0v5.0h-40.0zM2320.0,195.0h40.0v5.0h-40.0zM2360.0,195.0h40.0v5.0h-40.0zM360.0,235.0h40.0v5.0h-40.0zM400.0,235.0h40.0v5.0h-40.0zM440.0,235.0h40.0v5.0h-40.0zM480.0,235.0h40.0v5.0h-40.0zM1200.0,235.0h40.0v5.0h-40.0zM1240.0,235.0h40.0v5.0h-40.0zM1280.0,235.0h40.0v5.0h-40.0zM1320.0,235.0h40.0v5.0h-40.0zM1360.0,235.0h40.0v5.0h-40.0zM1400.0,235.0h40.0v5.0h-40.0zM1440.0,235.0h40.0v5.0h-40.0zM1480.0,235.0h40.0v5.0h-40.0zM2400.0,235.0h40.0v5.0h-40.0zM1520.0,275.0h40.0v5.0h-40.0zM1120.0,315.0h40.0v5.0h-40.0zM1160.0,315.0h40.0v5.0h-40.0zM1960.0,315.0h40.0v5.0h-40.0zM2080.0,355.0h40.0v5.0h-40.0zM240.0,395.0h40.0v5.0h-40.0zM280.0,395.0h40.0v5.0h-40.0zM320.0,395.0h40.0v5.0h-40.0zM360.0,395.0h40.0v5.0h-40.0zM760.0,395.0h40.0v5.0h-40.0zM2040.0,395.0h40.0v5.0h-40.0zM120.0,435.0h40.0v5.0h-40.0zM160.0,435.0h40.0v5.0h-40.0zM2440.0,475.0h40.0v5.0h-40.0zM1080.0,515.0h40.0v5.0h-40.0zM1400.0,515.0h40.0v5.0h-40.0zM2320.0,595.0h40.0v5.0h-40.0zM2360.0,595.0h40.0v5.0h-40.0zM2400.0,595.0h40.0v5.0h-40.0zM1720.0,635.0h40.0v5.0h-40.0zM2120.0,635.0h40.0v5.0h-40.0zM2200.0,635.0h40.0v5.0h-40.0zM2240.0,635.0h40.0v5.0h-40.0zM2280.0,635.0h40.0v5.0h-40.0zM400.0,675.0h40.0v5.0h-40.0zM520.0,715.0h40.0v5.0h-40.0zM1360.0,715.0h40.0v5.0h-40.0zM480.0,755.0h40.0v5.0h-40.0zM40.0,795.0h40.0v5.0h-40.0zM1000.0,795.0h40.0v5.0h-40.0zM1040.0,795.0h40.0v5.0h-40.0zM1080.0,795.0h40.0v5.0h-40.0zM1120.0,795.0h40.0v5.0h-40.0zM1160.0,795.0h40.0v5.0h-40.0zM1200.0,795.0h40.0v5.0h-40.0zM1240.0,795.0h40.0v5.0h-40.0zM1280.0,795.0h40.0v5.0h-40.0zM2040.0,795.0h40.0v5.0h-40.0zM2080.0,795.0h40.0v5.0h-40.0zM2120.0,795.0h40.0v5.0h-40.0zM2160.0,795.0h40.0v5.0h-40.0zM80.0,835.0h40.0v5.0h-40.0zM120.0,835.0h40.0v5.0h-40.0zM200.0,835.0h40.0v5.0h-40.0zM960.0,835.0h40.0v5.0h-40.0zM1320.0,835.0h40.0v5.0h-40.0zM1360.0,835.0h40.0v5.0h-40.0zM2000.0,835.0h40.0v5.0h-40.0zM800.0,875.0h40.0v5.0h-40.0zM840.0,875.0h40.0v5.0h-40.0zM880.0,875.0h40.0v5.0h-40.0zM920.0,875.0h40.0v5.0h-40.0zM1840.0,875.0h40.0v5.0h-40.0zM1880.0,875.0h40.0v5.0h-40.0zM1920.0,875.0h40.0v5.0h-40.0zM1960.0,875.0h40.0v5.0h-40.0zM760.0,915.0h40.0v5.0h-40.0zM1400.0,915.0h40.0v5.0h-40.0zM1440.0,915.0h40.0v5.0h-40.0zM1480.0,915.0h40.0v5.0h-40.0zM1520.0,915.0h40.0v5.0h-40.0zM1560.0,915.0h40.0v5.0h-40.0zM1600.0,915.0h40.0v5.0h-40.0zM1640.0,915.0h40.0v5.0h-40.0zM1680.0,915.0h40.0v5.0h-40.0zM1720.0,915.0h40.0v5.0h-40.0zM1760.0,915.0h40.0v5.0h-40.0zM1800.0,915.0h40.0v5.0h-40.0zM160.0,955.0h40.0v5.0h-40.0zM200.0,995.0h40.0v5.0h-40.0zM240.0,995.0h40.0v5.0h-40.0zM280.0,995.0h40.0v5.0h-40.0zM320.0,995.0h40.0v5.0h-40.0zM360.0,995.0h40.0v5.0h-40.0zM400.0,995.0h40.0v5.0h-40.0zM440.0,995.0h40.0v5.0h-40.0zM480.0,995.0h40.0v5.0h-40.0zM520.0,995.0h40.0v5.0h-40.0zM560.0,995.0h40.0v5.0h-40.0zM600.0,995.0h40.0v5.0h-40.0zM640.0,995.0h40.0v5.0h-40.0zM680.0,995.0h40.0v5.0h-40.0zM720.0,995.0h40.0v5.0h-40.0z" fill="#222126"/>
<path d="M1795.0,35.0h5.0v5.0h-5.0zM2120.0,35.0h5.0v5.0h-5.0zM2195.0,35.0h5.0v5.0h-5.0zM2280.0,35.0h5.0v5.0h-5.0zM2315.0,40.0h5.0v5.0h-5.0zM2320.0,75.0h5.0v5.0h-5.0zM715.0,115.0h5.0v5.0h-5.0zM995.0,115.0h5.0v5.0h-5.0zM960.0,115.0h5.0v5.0h-5.0zM1080.0,115.0h5.0v5.0h-5.0zM1755.0,115.0h5.0v5.0h-5.0zM555.0,155.0h5.0v5.0h-5.0zM1595.0,155.0h5.0v5.0h-5.0zM515.0,195.0h5.0v5.0h-5.0zM1115.0,160.0h5.0v5.0h-5.0zM1160.0,195.0h5.0v5.0h-5.0zM1555.0,195.0h5.0v5.0h-5.0zM2355.0,160.0h5.0v5.0h-5.0zM2400.0,195.0h5.0v5.0h-5.0zM355.0,235.0h5.0v5.0h-5.0zM1195.0,235.0h5.0v5.0h-5.0zM1195.0,200.0h5.0v5.0h-5.0zM1520.0,235.0h5.0v5.0h-5.0zM2435.0,200.0h5.0v5.0h-5.0zM2440.0,235.0h5.0v5.0h-5.0zM235.0,395.0h5.0v5.0h-5.0zM355.0,360.0h5.0v5.0h-5.0zM115.0,435.0h5.0v5.0h-5.0zM75.0,555.0h5.0v5.0h-5.0zM2195.0,635.0h5.0v5.0h-5.0zM2160.0,635.0h5.0v5.0h-5.0zM1355.0,715.0h5.0v5.0h-5.0zM75.0,760.0h5.0v5.0h-5.0zM80.0,795.0h5.0v5.0h-5.0zM995.0,795.0h5.0v5.0h-5.0zM995.0,760.0h5.0v5.0h-5.0zM1320.0,795.0h5.0v5.0h-5.0zM2035.0,795.0h5.0v5.0h-5.0zM115.0,800.0h5.0v5.0h-5.0zM195.0,835.0h5.0v5.0h-5.0zM160.0,835.0h5.0v5.0h-5.0zM955.0,835.0h5.0v5.0h-5.0zM1355.0,800.0h5.0v5.0h-5.0zM1400.0,835.0h5.0v5.0h-5.0zM1995.0,835.0h5.0v5.0h-5.0zM1435.0,880.0h5.0v5.0h-5.0zM1555.0,880.0h5.0v5.0h-5.0zM195.0,920.0h5.0v5.0h-5.0zM200.0,955.0h5.0v5.0h-5.0zM235.0,960.0h5.0v5.0h-5.0zM395.0,960.0h5.0v5.0h-5.0z" fill="#222126"/>
<path d="M2080,320L2040,360L2047.07,360L2080,327.07ZM2440,440L2400,480L2407.07,480L2440,447.07ZM2320,560L2280,600L2287.07,600L2320,567.07ZM520,680L480,720L487.07,720L520,687.07ZM800,840L760,880L767.07,880L800,847.07ZM1840,840L1800,880L1807.07,880L1840,847.07ZM760,880L720,920L727.07,920L760,887.07ZM360,920L400,960L392.93,960L360,927.07Z" fill="#38373c"/>
<path d="M2120,40L2160,80L2160,72.93L2127.07,40ZM1800,80L1760,120L1760,112.93L1792.93,80ZM720,120L680,160L680,152.93L712.93,120ZM1760,120L1720,160L1720,152.93L1752.93,120ZM2040,280L2000,320L2000,312.93L2032.93,280ZM240,400L200,440L200,432.93L232.93,400ZM120,520L80,560L80,552.93L112.93,520ZM480,640L440,680L440,672.93L472.93,640Z" fill="#222126"/>
<g fill="#29282d"><rect x="535.0" y="155.5" width="4.6" height="24" rx="2.2"/><rect x="1575.0" y="155.5" width="4.6" height="24" rx="2.2"/><rect x="2335.0" y="155.5" width="4.6" height="24" rx="2.2"/><rect x="495.0" y="195.5" width="4.6" height="24" rx="2.2"/><rect x="1535.0" y="195.5" width="4.6" height="24" rx="2.2"/><rect x="1175.0" y="275.5" width="4.6" height="24" rx="2.2"/><rect x="335.0" y="355.5" width="4.6" height="24" rx="2.2"/><rect x="2415.0" y="555.5" width="4.6" height="24" rx="2.2"/><rect x="1335.0" y="755.5" width="4.6" height="24" rx="2.2"/><rect x="2175.0" y="755.5" width="4.6" height="24" rx="2.2"/><rect x="975.0" y="795.5" width="4.6" height="24" rx="2.2"/><rect x="2015.0" y="795.5" width="4.6" height="24" rx="2.2"/><rect x="935.0" y="835.5" width="4.6" height="24" rx="2.2"/><rect x="1975.0" y="835.5" width="4.6" height="24" rx="2.2"/><rect x="1535.0" y="875.5" width="4.6" height="24" rx="2.2"/><rect x="335.0" y="955.5" width="4.6" height="24" rx="2.2"/><rect x="735.0" y="955.5" width="4.6" height="24" rx="2.2"/><rect x="1774.0" y="75.0" width="4.6" height="5.5" rx="2.2"/><rect x="694.0" y="115.0" width="4.6" height="5.5" rx="2.2"/><rect x="1734.0" y="115.0" width="4.6" height="5.5" rx="2.2"/><rect x="2014.0" y="275.0" width="4.6" height="5.5" rx="2.2"/><rect x="214.0" y="395.0" width="4.6" height="5.5" rx="2.2"/><rect x="94.0" y="515.0" width="4.6" height="5.5" rx="2.2"/><rect x="454.0" y="635.0" width="4.6" height="5.5" rx="2.2"/></g>
<use href="#sp" x="2200" y="40"/>
<use href="#sp" x="2240" y="40"/>
<use href="#sp" x="2240" y="80"/>
<use href="#sp" x="2280" y="80"/>
<use href="#sp" x="1000" y="120"/>
<use href="#sp" x="1040" y="120"/>
<use href="#sp" x="2280" y="120"/>
<use href="#pw" x="2160" y="160"/>
<use href="#sp" x="1120" y="200"/>
<use href="#bm" x="360" y="240"/>
<use href="#bm" x="400" y="240"/>
<use href="#pw" x="1000" y="240"/>
<use href="#sp" x="1120" y="240"/>
<use href="#sp" x="1480" y="240"/>
<use href="#bbl" x="1640" y="240"/>
<use href="#bm" x="2040" y="280"/>
<use href="#sp" x="360" y="320"/>
<use href="#nb" x="2000" y="320"/>
<use href="#byl" x="200" y="440"/>
<use href="#byl" x="2360" y="440"/>
<use href="#pt" x="160" y="480"/>
<use href="#brd" x="360" y="480"/>
<use href="#frd" x="640" y="480"/>
<use href="#bt" x="760" y="480"/>
<use href="#sp" x="1120" y="480"/>
<use href="#byl" x="1200" y="480"/>
<use href="#byl" x="1240" y="480"/>
<use href="#byl" x="1280" y="480"/>
<use href="#sp" x="1360" y="480"/>
<use href="#bt" x="1720" y="480"/>
<use href="#fbl" x="1840" y="480"/>
<use href="#bbl" x="2120" y="480"/>
<use href="#pt" x="2320" y="480"/>
<use href="#byl" x="120" y="520"/>
<use href="#byl" x="2280" y="520"/>
<use href="#nb" x="480" y="640"/>
<use href="#sp" x="2120" y="640"/>
<use href="#bm" x="440" y="680"/>
<use href="#brd" x="840" y="720"/>
<use href="#sp" x="1000" y="720"/>
<use href="#sp" x="1360" y="720"/>
<use href="#pw" x="1480" y="720"/>
<use href="#bm" x="2080" y="720"/>
<use href="#bm" x="2120" y="720"/>
<use href="#sp" x="1360" y="760"/>
<use href="#pw" x="320" y="800"/>
<use href="#sp" x="200" y="840"/>
<use href="#sp" x="1440" y="840"/>
<use href="#sp" x="1480" y="840"/>
<use href="#sp" x="200" y="880"/>
<use href="#sp" x="240" y="880"/>
<use href="#sp" x="240" y="920"/>
<use href="#sp" x="280" y="920"/>
</svg></body></html>
